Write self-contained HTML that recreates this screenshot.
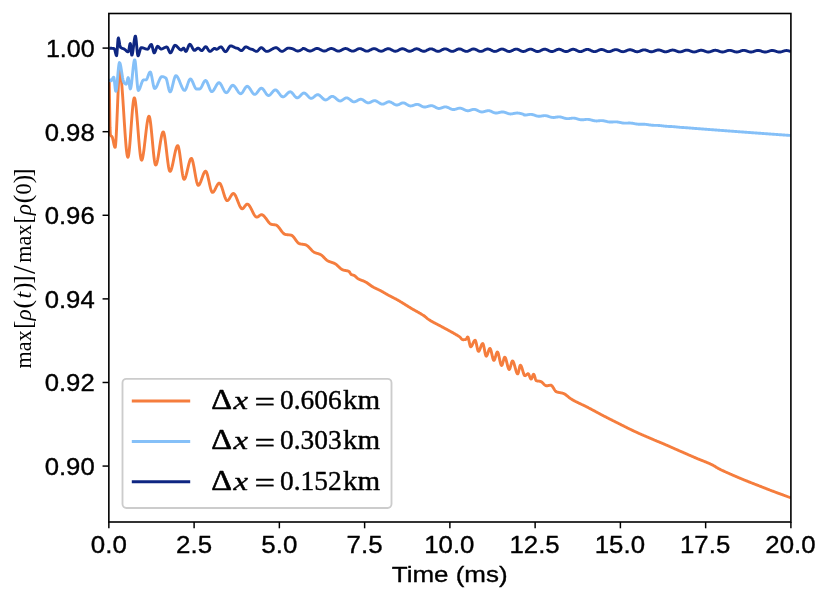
<!DOCTYPE html>
<html><head><meta charset="utf-8"><title>chart</title>
<style>
html,body{margin:0;padding:0;background:#fff;overflow:hidden;}
body{width:830px;height:601px;overflow:hidden;position:relative;font-family:"Liberation Sans",sans-serif;}
</style></head><body>
<svg width="830" height="601" viewBox="0 0 830 601" style="position:absolute;left:0;top:0;display:block;will-change:transform">
<defs><clipPath id="ax"><rect x="108.85" y="13.5" width="682.05" height="508.5"/></clipPath></defs>
<g clip-path="url(#ax)" fill="none" stroke-linejoin="round" stroke-linecap="butt">
<path d="M109.30,82.00 L109.65,106.94 L110.00,127.16 L110.35,134.64 L110.70,135.37 L111.05,135.81 L111.40,136.10 L111.75,136.39 L112.10,136.83 L112.45,137.61 L112.80,138.86 L113.15,140.42 L113.50,142.13 L113.85,143.84 L114.20,145.38 L114.55,146.58 L114.90,147.28 L115.25,147.16 L115.60,144.88 L115.95,140.50 L116.30,134.45 L116.65,127.12 L117.00,118.92 L117.35,110.25 L117.70,101.53 L118.05,93.16 L118.40,85.53 L118.75,79.07 L119.10,74.18 L119.45,71.26 L119.80,70.64 L120.15,71.35 L120.50,72.91 L120.85,75.23 L121.20,78.23 L121.55,81.83 L121.90,85.96 L122.25,90.52 L122.60,95.43 L122.95,100.63 L123.30,106.02 L123.65,111.52 L124.00,117.07 L124.35,122.56 L124.70,127.93 L125.05,133.09 L125.40,137.96 L125.75,142.46 L126.10,146.51 L126.45,150.03 L126.80,152.94 L127.15,155.16 L127.50,156.60 L127.85,157.19 L128.20,156.82 L128.55,155.49 L128.90,153.31 L129.25,150.40 L129.60,146.87 L129.95,142.85 L130.30,138.44 L130.65,133.76 L131.00,128.94 L131.35,124.08 L131.70,119.31 L132.05,114.73 L132.40,110.48 L132.75,106.65 L133.10,103.37 L133.45,100.76 L133.80,98.93 L134.15,98.00 L134.50,98.04 L134.85,98.91 L135.20,100.51 L135.55,102.75 L135.90,105.57 L136.25,108.86 L136.60,112.56 L136.95,116.57 L137.30,120.82 L137.65,125.22 L138.00,129.69 L138.35,134.15 L138.70,138.52 L139.05,142.71 L139.40,146.64 L139.75,150.22 L140.10,153.39 L140.45,156.05 L140.80,158.12 L141.15,159.52 L141.50,160.17 L141.85,160.05 L142.20,159.38 L142.55,158.21 L142.90,156.60 L143.25,154.61 L143.60,152.30 L143.95,149.71 L144.30,146.90 L144.65,143.94 L145.00,140.87 L145.35,137.75 L145.70,134.65 L146.05,131.60 L146.40,128.68 L146.75,125.93 L147.10,123.41 L147.45,121.18 L147.80,119.30 L148.15,117.81 L148.50,116.78 L148.85,116.25 L149.20,116.33 L149.55,117.13 L149.90,118.61 L150.25,120.67 L150.60,123.23 L150.95,126.22 L151.30,129.53 L151.65,133.10 L152.00,136.83 L152.35,140.65 L152.70,144.47 L153.05,148.20 L153.40,151.77 L153.75,155.08 L154.10,158.07 L154.45,160.63 L154.80,162.69 L155.15,164.17 L155.50,164.97 L155.85,165.06 L156.20,164.68 L156.55,163.92 L156.90,162.82 L157.25,161.43 L157.60,159.79 L157.95,157.93 L158.30,155.90 L158.65,153.73 L159.00,151.47 L159.35,149.16 L159.70,146.84 L160.05,144.55 L160.40,142.33 L160.75,140.21 L161.10,138.25 L161.45,136.48 L161.80,134.94 L162.15,133.67 L162.50,132.71 L162.85,132.11 L163.20,131.90 L163.55,132.20 L163.90,133.07 L164.25,134.43 L164.60,136.23 L164.95,138.40 L165.30,140.87 L165.65,143.59 L166.00,146.48 L166.35,149.48 L166.70,152.52 L167.05,155.55 L167.40,158.49 L167.75,161.29 L168.10,163.87 L168.45,166.18 L168.80,168.14 L169.15,169.70 L169.50,170.79 L169.85,171.34 L170.20,171.35 L170.55,171.02 L170.90,170.42 L171.25,169.58 L171.60,168.52 L171.95,167.27 L172.30,165.87 L172.65,164.34 L173.00,162.70 L173.35,161.00 L173.70,159.25 L174.05,157.50 L174.40,155.75 L174.75,154.06 L175.10,152.44 L175.45,150.92 L175.80,149.54 L176.15,148.32 L176.50,147.28 L176.85,146.47 L177.20,145.91 L177.55,145.63 L177.90,145.70 L178.25,146.30 L178.60,147.41 L178.95,148.95 L179.30,150.87 L179.65,153.08 L180.00,155.53 L180.35,158.15 L180.70,160.87 L181.05,163.63 L181.40,166.37 L181.75,169.01 L182.10,171.48 L182.45,173.74 L182.80,175.69 L183.15,177.29 L183.50,178.47 L183.85,179.15 L184.20,179.29 L184.55,179.07 L184.90,178.58 L185.25,177.87 L185.60,176.96 L185.95,175.87 L186.30,174.64 L186.65,173.29 L187.00,171.86 L187.35,170.37 L187.70,168.85 L188.05,167.33 L188.40,165.84 L188.75,164.41 L189.10,163.06 L189.45,161.83 L189.80,160.74 L190.15,159.83 L190.50,159.12 L190.85,158.63 L191.20,158.41 L191.55,158.50 L191.90,158.96 L192.25,159.75 L192.60,160.84 L192.95,162.18 L193.30,163.73 L193.65,165.46 L194.00,167.32 L194.35,169.27 L194.70,171.27 L195.05,173.29 L195.40,175.27 L195.75,177.19 L196.10,179.00 L196.45,180.66 L196.80,182.12 L197.15,183.36 L197.50,184.33 L197.85,184.98 L198.20,185.28 L198.55,185.25 L198.90,185.03 L199.25,184.65 L199.60,184.12 L199.95,183.46 L200.30,182.70 L200.65,181.86 L201.00,180.94 L201.35,179.97 L201.70,178.97 L202.05,177.96 L202.40,176.95 L202.75,175.97 L203.10,175.03 L203.45,174.15 L203.80,173.35 L204.15,172.65 L204.50,172.06 L204.85,171.62 L205.20,171.32 L205.55,171.20 L205.90,171.32 L206.25,171.73 L206.60,172.41 L206.95,173.32 L207.30,174.43 L207.65,175.70 L208.00,177.11 L208.35,178.62 L208.70,180.19 L209.05,181.80 L209.40,183.41 L209.75,184.98 L210.10,186.49 L210.45,187.90 L210.80,189.17 L211.15,190.28 L211.50,191.19 L211.85,191.87 L212.20,192.28 L212.55,192.40 L212.90,192.31 L213.25,192.09 L213.60,191.75 L213.95,191.31 L214.30,190.79 L214.65,190.20 L215.00,189.55 L215.35,188.87 L215.70,188.16 L216.05,187.44 L216.40,186.73 L216.75,186.04 L217.10,185.39 L217.45,184.79 L217.80,184.26 L218.15,183.81 L218.50,183.46 L218.85,183.22 L219.20,183.11 L219.55,183.15 L219.90,183.39 L220.25,183.80 L220.60,184.37 L220.95,185.07 L221.30,185.90 L221.65,186.82 L222.00,187.84 L222.35,188.91 L222.70,190.03 L223.05,191.19 L223.40,192.35 L223.75,193.50 L224.10,194.63 L224.45,195.71 L224.80,196.74 L225.15,197.68 L225.50,198.52 L225.85,199.24 L226.20,199.83 L226.55,200.26 L226.90,200.53 L227.25,200.60 L227.60,200.52 L227.95,200.31 L228.30,200.01 L228.65,199.62 L229.00,199.15 L229.35,198.63 L229.70,198.07 L230.05,197.48 L230.40,196.88 L230.75,196.28 L231.10,195.71 L231.45,195.17 L231.80,194.67 L232.15,194.25 L232.50,193.91 L232.85,193.66 L233.20,193.52 L233.55,193.51 L233.90,193.64 L234.25,193.90 L234.60,194.28 L234.95,194.76 L235.30,195.33 L235.65,195.99 L236.00,196.72 L236.35,197.51 L236.70,198.34 L237.05,199.21 L237.40,200.11 L237.75,201.02 L238.10,201.93 L238.45,202.83 L238.80,203.71 L239.15,204.56 L239.50,205.36 L239.85,206.11 L240.20,206.79 L240.55,207.39 L240.90,207.90 L241.25,208.30 L241.60,208.60 L241.95,208.76 L242.30,208.79 L242.65,208.70 L243.00,208.49 L243.35,208.19 L243.70,207.82 L244.05,207.39 L244.40,206.93 L244.75,206.45 L245.10,205.97 L245.45,205.51 L245.80,205.08 L246.15,204.71 L246.50,204.41 L246.85,204.20 L247.20,204.11 L247.55,204.13 L247.90,204.25 L248.25,204.46 L248.60,204.76 L248.95,205.14 L249.30,205.59 L249.65,206.09 L250.00,206.65 L250.35,207.26 L250.70,207.90 L251.05,208.58 L251.40,209.27 L251.75,209.99 L252.10,210.70 L252.45,211.42 L252.80,212.13 L253.15,212.82 L253.50,213.48 L253.85,214.12 L254.20,214.71 L254.55,215.26 L254.90,215.75 L255.25,216.17 L255.60,216.53 L255.95,216.81 L256.30,217.00 L256.65,217.09 L257.00,217.09 L257.35,217.01 L257.70,216.87 L258.05,216.68 L258.40,216.45 L258.75,216.20 L259.10,215.94 L259.45,215.67 L259.80,215.41 L260.15,215.18 L260.50,214.98 L260.85,214.83 L261.20,214.73 L261.55,214.70 L261.90,214.74 L262.25,214.84 L262.60,215.00 L262.95,215.21 L263.30,215.47 L263.65,215.77 L264.00,216.11 L264.35,216.49 L264.70,216.89 L265.05,217.32 L265.40,217.77 L265.75,218.24 L266.10,218.72 L266.45,219.20 L266.80,219.69 L267.15,220.18 L267.50,220.67 L267.85,221.14 L268.20,221.60 L268.55,222.04 L268.90,222.46 L269.25,222.85 L269.60,223.21 L269.95,223.53 L270.30,223.81 L270.65,224.04 L271.00,224.23 L271.35,224.36 L271.70,224.44 L272.05,224.51 L272.40,224.56 L272.75,224.60 L273.10,224.64 L273.45,224.68 L273.80,224.71 L274.15,224.75 L274.50,224.79 L274.85,224.83 L275.20,224.88 L275.55,224.95 L275.90,225.02 L276.25,225.15 L276.60,225.33 L276.95,225.56 L277.30,225.83 L277.65,226.15 L278.00,226.50 L278.35,226.89 L278.70,227.30 L279.05,227.74 L279.40,228.20 L279.75,228.67 L280.10,229.15 L280.45,229.63 L280.80,230.12 L281.15,230.60 L281.50,231.07 L281.85,231.53 L282.20,231.97 L282.55,232.40 L282.90,232.79 L283.25,233.15 L283.60,233.48 L283.95,233.77 L284.30,234.01 L284.65,234.21 L285.00,234.35 L285.35,234.43 L285.70,234.50 L286.05,234.56 L286.40,234.61 L286.75,234.66 L287.10,234.69 L287.45,234.73 L287.80,234.76 L288.15,234.79 L288.50,234.82 L288.85,234.86 L289.20,234.89 L289.55,234.93 L289.90,234.97 L290.25,235.02 L290.60,235.08 L290.95,235.15 L291.30,235.23 L291.65,235.36 L292.00,235.55 L292.35,235.80 L292.70,236.09 L293.05,236.44 L293.40,236.82 L293.75,237.23 L294.10,237.67 L294.45,238.13 L294.80,238.61 L295.15,239.09 L295.50,239.58 L295.85,240.07 L296.20,240.56 L296.55,241.03 L296.90,241.48 L297.25,241.91 L297.60,242.30 L297.95,242.67 L298.30,242.99 L298.65,243.26 L299.00,243.49 L299.35,243.65 L299.70,243.76 L300.05,243.85 L300.40,243.93 L300.75,244.00 L301.10,244.06 L301.45,244.12 L301.80,244.17 L302.15,244.21 L302.50,244.26 L302.85,244.30 L303.20,244.35 L303.55,244.40 L303.90,244.45 L304.25,244.51 L304.60,244.58 L304.95,244.66 L305.30,244.74 L305.65,244.85 L306.00,244.98 L306.35,245.16 L306.70,245.36 L307.05,245.60 L307.40,245.86 L307.75,246.15 L308.10,246.46 L308.45,246.78 L308.80,247.13 L309.15,247.48 L309.50,247.84 L309.85,248.22 L310.20,248.59 L310.55,248.97 L310.90,249.34 L311.25,249.71 L311.60,250.08 L311.95,250.43 L312.30,250.77 L312.65,251.09 L313.00,251.39 L313.35,251.67 L313.70,251.93 L314.05,252.15 L314.40,252.35 L314.75,252.52 L315.10,252.67 L315.45,252.81 L315.80,252.94 L316.15,253.05 L316.50,253.16 L316.85,253.27 L317.20,253.37 L317.55,253.47 L317.90,253.58 L318.25,253.68 L318.60,253.79 L318.95,253.91 L319.30,254.03 L319.65,254.16 L320.00,254.31 L320.35,254.48 L320.70,254.66 L321.05,254.88 L321.40,255.12 L321.75,255.39 L322.10,255.68 L322.45,255.99 L322.80,256.32 L323.15,256.66 L323.50,257.01 L323.85,257.36 L324.20,257.72 L324.55,258.08 L324.90,258.44 L325.25,258.79 L325.60,259.12 L325.95,259.45 L326.30,259.76 L326.65,260.06 L327.00,260.33 L327.35,260.57 L327.70,260.79 L328.05,260.98 L328.40,261.15 L328.75,261.31 L329.10,261.45 L329.45,261.59 L329.80,261.72 L330.15,261.84 L330.50,261.96 L330.85,262.07 L331.20,262.18 L331.55,262.29 L331.90,262.40 L332.25,262.52 L332.60,262.64 L332.95,262.76 L333.30,262.89 L333.65,263.02 L334.00,263.17 L334.35,263.33 L334.70,263.50 L335.05,263.69 L335.40,263.91 L335.75,264.15 L336.10,264.41 L336.45,264.69 L336.80,264.99 L337.15,265.30 L337.50,265.61 L337.85,265.94 L338.20,266.27 L338.55,266.60 L338.90,266.94 L339.25,267.27 L339.60,267.59 L339.95,267.91 L340.30,268.22 L340.65,268.51 L341.00,268.79 L341.35,269.05 L341.70,269.28 L342.05,269.50 L342.40,269.68 L342.75,269.84 L343.10,269.97 L343.45,270.08 L343.80,270.18 L344.15,270.26 L344.50,270.33 L344.85,270.40 L345.20,270.46 L345.55,270.52 L345.90,270.58 L346.25,270.64 L346.60,270.70 L346.95,270.77 L347.30,270.85 L347.65,270.94 L348.00,271.05 L348.35,271.17 L348.70,271.31 L349.05,271.49 L349.40,271.86 L349.75,272.37 L350.10,272.95 L350.45,273.53 L350.80,274.03 L351.15,274.37 L351.50,274.56 L351.85,274.71 L352.20,274.83 L352.55,274.94 L352.90,275.04 L353.25,275.14 L353.60,275.25 L353.95,275.38 L354.30,275.55 L354.65,275.77 L355.00,276.04 L355.35,276.34 L355.70,276.67 L356.05,277.01 L356.40,277.35 L356.75,277.69 L357.10,278.00 L357.45,278.29 L357.80,278.54 L358.15,278.75 L358.50,278.94 L358.85,279.12 L359.20,279.30 L359.55,279.46 L359.90,279.61 L360.25,279.76 L360.60,279.91 L360.95,280.05 L361.30,280.18 L361.65,280.31 L362.00,280.45 L362.35,280.58 L362.70,280.71 L363.05,280.85 L363.40,280.98 L363.75,281.13 L364.10,281.28 L364.45,281.43 L364.80,281.60 L365.15,281.77 L365.50,281.95 L365.85,282.15 L366.20,282.35 L366.55,282.57 L366.90,282.79 L367.25,283.02 L367.60,283.26 L367.95,283.51 L368.30,283.75 L368.65,284.00 L369.00,284.26 L369.35,284.51 L369.70,284.76 L370.05,285.02 L370.40,285.27 L370.75,285.52 L371.10,285.76 L371.45,286.00 L371.80,286.23 L372.15,286.45 L372.50,286.67 L372.85,286.87 L373.20,287.07 L373.55,287.26 L373.90,287.44 L374.25,287.63 L374.60,287.80 L374.95,287.98 L375.30,288.15 L375.65,288.31 L376.00,288.48 L376.35,288.64 L376.70,288.81 L377.05,288.97 L377.40,289.13 L377.75,289.30 L378.10,289.46 L378.45,289.63 L378.80,289.79 L379.15,289.96 L379.50,290.14 L379.85,290.31 L380.20,290.49 L380.55,290.68 L380.90,290.87 L381.25,291.06 L381.60,291.26 L381.95,291.45 L382.30,291.65 L382.65,291.85 L383.00,292.06 L383.35,292.26 L383.70,292.47 L384.05,292.67 L384.40,292.88 L384.75,293.09 L385.10,293.30 L385.45,293.50 L385.80,293.71 L386.15,293.91 L386.50,294.11 L386.85,294.31 L387.20,294.51 L387.55,294.71 L387.90,294.90 L388.25,295.09 L388.60,295.28 L388.95,295.46 L389.30,295.65 L389.65,295.83 L390.00,296.01 L390.35,296.19 L390.70,296.37 L391.05,296.55 L391.40,296.73 L391.75,296.91 L392.10,297.08 L392.45,297.26 L392.80,297.44 L393.15,297.62 L393.50,297.80 L393.85,297.97 L394.20,298.15 L394.55,298.34 L394.90,298.52 L395.25,298.70 L395.60,298.89 L395.95,299.08 L396.30,299.27 L396.65,299.46 L397.00,299.66 L397.35,299.85 L397.70,300.05 L398.05,300.25 L398.40,300.45 L398.75,300.66 L399.10,300.86 L399.45,301.07 L399.80,301.28 L400.15,301.49 L400.50,301.70 L400.85,301.91 L401.20,302.12 L401.55,302.33 L401.90,302.55 L402.25,302.76 L402.60,302.98 L402.95,303.20 L403.30,303.41 L403.65,303.63 L404.00,303.85 L404.35,304.07 L404.70,304.29 L405.05,304.50 L405.40,304.72 L405.75,304.94 L406.10,305.16 L406.45,305.38 L406.80,305.60 L407.15,305.82 L407.50,306.04 L407.85,306.26 L408.20,306.48 L408.55,306.69 L408.90,306.91 L409.25,307.13 L409.60,307.34 L409.95,307.56 L410.30,307.77 L410.65,307.99 L411.00,308.20 L411.35,308.41 L411.70,308.62 L412.05,308.83 L412.40,309.03 L412.75,309.23 L413.10,309.43 L413.45,309.63 L413.80,309.83 L414.15,310.02 L414.50,310.22 L414.85,310.41 L415.20,310.61 L415.55,310.80 L415.90,310.99 L416.25,311.19 L416.60,311.38 L416.95,311.57 L417.30,311.77 L417.65,311.96 L418.00,312.16 L418.35,312.35 L418.70,312.55 L419.05,312.75 L419.40,312.95 L419.75,313.16 L420.10,313.36 L420.45,313.57 L420.80,313.78 L421.15,313.99 L421.50,314.21 L421.85,314.42 L422.20,314.65 L422.55,314.87 L422.90,315.10 L423.25,315.33 L423.60,315.57 L423.95,315.81 L424.30,316.05 L424.65,316.30 L425.00,316.55 L425.35,316.81 L425.70,317.08 L426.05,317.38 L426.40,317.71 L426.75,318.04 L427.10,318.36 L427.45,318.64 L427.80,318.89 L428.15,319.14 L428.50,319.38 L428.85,319.62 L429.20,319.85 L429.55,320.07 L429.90,320.30 L430.25,320.52 L430.60,320.73 L430.95,320.94 L431.30,321.15 L431.65,321.35 L432.00,321.55 L432.35,321.75 L432.70,321.94 L433.05,322.13 L433.40,322.32 L433.75,322.51 L434.10,322.70 L434.45,322.88 L434.80,323.06 L435.15,323.24 L435.50,323.42 L435.85,323.60 L436.20,323.78 L436.55,323.96 L436.90,324.14 L437.25,324.32 L437.60,324.50 L437.95,324.68 L438.30,324.86 L438.65,325.04 L439.00,325.22 L439.35,325.41 L439.70,325.59 L440.05,325.78 L440.40,325.97 L440.75,326.16 L441.10,326.36 L441.45,326.55 L441.80,326.74 L442.15,326.94 L442.50,327.13 L442.85,327.32 L443.20,327.51 L443.55,327.70 L443.90,327.89 L444.25,328.08 L444.60,328.27 L444.95,328.46 L445.30,328.64 L445.65,328.83 L446.00,329.02 L446.35,329.21 L446.70,329.39 L447.05,329.58 L447.40,329.77 L447.75,329.96 L448.10,330.15 L448.45,330.33 L448.80,330.52 L449.15,330.71 L449.50,330.90 L449.85,331.09 L450.20,331.28 L450.55,331.47 L450.90,331.67 L451.25,331.86 L451.60,332.05 L451.95,332.25 L452.30,332.45 L452.65,332.64 L453.00,332.84 L453.35,333.04 L453.70,333.24 L454.05,333.44 L454.40,333.65 L454.75,333.85 L455.10,334.06 L455.45,334.26 L455.80,334.47 L456.15,334.67 L456.50,334.87 L456.85,335.08 L457.20,335.29 L457.55,335.50 L457.90,335.71 L458.25,335.93 L458.60,336.16 L458.95,336.39 L459.30,336.64 L459.65,336.89 L460.00,337.16 L460.35,337.51 L460.70,337.91 L461.05,338.33 L461.40,338.75 L461.75,339.12 L462.10,339.42 L462.45,339.63 L462.80,339.70 L463.15,339.70 L463.50,339.69 L463.85,339.68 L464.20,339.66 L464.55,339.63 L464.90,339.60 L465.25,339.57 L465.60,339.53 L465.95,339.44 L466.30,339.02 L466.65,338.37 L467.00,337.68 L467.35,337.13 L467.70,336.90 L468.05,337.27 L468.40,338.27 L468.75,339.69 L469.10,341.36 L469.45,343.08 L469.80,344.66 L470.15,345.92 L470.50,346.67 L470.85,346.78 L471.20,346.57 L471.55,346.17 L471.90,345.61 L472.25,344.95 L472.60,344.21 L472.95,343.44 L473.30,342.67 L473.65,341.95 L474.00,341.32 L474.35,340.80 L474.70,340.45 L475.05,340.30 L475.40,340.54 L475.75,341.36 L476.10,342.62 L476.45,344.16 L476.80,345.85 L477.15,347.54 L477.50,349.08 L477.85,350.34 L478.20,351.16 L478.55,351.40 L478.90,351.20 L479.25,350.73 L479.60,350.06 L479.95,349.23 L480.30,348.29 L480.65,347.31 L481.00,346.34 L481.35,345.42 L481.70,344.63 L482.05,344.01 L482.40,343.62 L482.75,343.51 L483.10,343.94 L483.45,344.92 L483.80,346.33 L484.15,348.02 L484.50,349.85 L484.85,351.68 L485.20,353.37 L485.55,354.78 L485.90,355.76 L486.25,356.19 L486.60,356.05 L486.95,355.53 L487.30,354.73 L487.65,353.73 L488.00,352.62 L488.35,351.49 L488.70,350.42 L489.05,349.50 L489.40,348.81 L489.75,348.44 L490.10,348.49 L490.45,349.02 L490.80,349.95 L491.15,351.18 L491.50,352.62 L491.85,354.18 L492.20,355.74 L492.55,357.22 L492.90,358.52 L493.25,359.55 L493.60,360.21 L493.95,360.39 L494.30,360.10 L494.65,359.41 L495.00,358.43 L495.35,357.27 L495.70,356.02 L496.05,354.79 L496.40,353.67 L496.75,352.76 L497.10,352.17 L497.45,352.01 L497.80,352.34 L498.15,353.14 L498.50,354.29 L498.85,355.72 L499.20,357.31 L499.55,358.99 L499.90,360.66 L500.25,362.21 L500.60,363.57 L500.95,364.63 L501.30,365.30 L501.65,365.49 L502.00,365.14 L502.35,364.35 L502.70,363.23 L503.05,361.93 L503.40,360.58 L503.75,359.29 L504.10,358.22 L504.45,357.48 L504.80,357.20 L505.15,357.42 L505.50,358.03 L505.85,358.97 L506.20,360.14 L506.55,361.49 L506.90,362.93 L507.25,364.39 L507.60,365.80 L507.95,367.09 L508.30,368.17 L508.65,368.97 L509.00,369.43 L509.35,369.45 L509.70,368.97 L510.05,368.10 L510.40,366.95 L510.75,365.64 L511.10,364.29 L511.45,363.03 L511.80,361.99 L512.15,361.27 L512.50,361.00 L512.85,361.17 L513.20,361.64 L513.55,362.37 L513.90,363.30 L514.25,364.40 L514.60,365.61 L514.95,366.89 L515.30,368.19 L515.65,369.47 L516.00,370.67 L516.35,371.74 L516.70,372.65 L517.05,373.35 L517.40,373.78 L517.75,373.89 L518.10,373.38 L518.45,372.26 L518.80,370.74 L519.15,369.07 L519.50,367.46 L519.85,366.14 L520.20,365.34 L520.55,365.23 L520.90,365.56 L521.25,366.18 L521.60,367.04 L521.95,368.08 L522.30,369.23 L522.65,370.45 L523.00,371.67 L523.35,372.82 L523.70,373.86 L524.05,374.72 L524.40,375.34 L524.75,375.67 L525.10,375.68 L525.45,375.54 L525.80,375.31 L526.15,375.02 L526.50,374.70 L526.85,374.38 L527.20,374.09 L527.55,373.86 L527.90,373.72 L528.25,373.74 L528.60,374.10 L528.95,374.75 L529.30,375.60 L529.65,376.53 L530.00,377.45 L530.35,378.26 L530.70,378.84 L531.05,379.10 L531.40,378.91 L531.75,378.30 L532.10,377.41 L532.45,376.41 L532.80,375.46 L533.15,374.71 L533.50,374.32 L533.85,374.45 L534.20,375.07 L534.55,376.05 L534.90,377.21 L535.25,378.42 L535.60,379.50 L535.95,380.32 L536.30,380.70 L536.65,380.80 L537.00,380.89 L537.35,380.95 L537.70,381.01 L538.05,381.05 L538.40,381.09 L538.75,381.12 L539.10,381.16 L539.45,381.20 L539.80,381.25 L540.15,381.32 L540.50,381.40 L540.85,381.52 L541.20,381.70 L541.55,381.93 L541.90,382.21 L542.25,382.51 L542.60,382.84 L542.95,383.19 L543.30,383.54 L543.65,383.90 L544.00,384.25 L544.35,384.58 L544.70,384.89 L545.05,385.17 L545.40,385.41 L545.75,385.59 L546.10,385.73 L546.45,385.79 L546.80,385.80 L547.15,385.77 L547.50,385.73 L547.85,385.67 L548.20,385.61 L548.55,385.53 L548.90,385.46 L549.25,385.38 L549.60,385.32 L549.95,385.26 L550.30,385.22 L550.65,385.20 L551.00,385.22 L551.35,385.36 L551.70,385.61 L552.05,385.96 L552.40,386.39 L552.75,386.88 L553.10,387.42 L553.45,387.99 L553.80,388.58 L554.15,389.16 L554.50,389.72 L554.85,390.25 L555.20,390.72 L555.55,391.13 L555.90,391.46 L556.25,391.68 L556.60,391.82 L556.95,391.95 L557.30,392.07 L557.65,392.17 L558.00,392.26 L558.35,392.35 L558.70,392.42 L559.05,392.49 L559.40,392.56 L559.75,392.62 L560.10,392.69 L560.45,392.75 L560.80,392.81 L561.15,392.88 L561.50,392.95 L561.85,393.02 L562.20,393.11 L562.55,393.20 L562.90,393.30 L563.25,393.41 L563.60,393.54 L563.95,393.69 L564.30,393.86 L564.65,394.05 L565.00,394.26 L565.35,394.49 L565.70,394.73 L566.05,394.99 L566.40,395.26 L566.75,395.54 L567.10,395.82 L567.45,396.11 L567.80,396.41 L568.15,396.70 L568.50,397.00 L568.85,397.29 L569.20,397.58 L569.55,397.86 L569.90,398.13 L570.25,398.39 L570.60,398.64 L570.95,398.88 L571.30,399.10 L571.65,399.31 L572.00,399.52 L572.35,399.72 L572.70,399.92 L573.05,400.12 L573.40,400.31 L573.75,400.50 L574.10,400.69 L574.45,400.88 L574.80,401.06 L575.15,401.25 L575.50,401.43 L575.85,401.61 L576.20,401.78 L576.55,401.96 L576.90,402.13 L577.25,402.30 L577.60,402.47 L577.95,402.64 L578.30,402.81 L578.65,402.98 L579.00,403.15 L579.35,403.31 L579.70,403.48 L580.05,403.64 L580.40,403.81 L580.75,403.97 L581.10,404.13 L581.45,404.30 L581.80,404.46 L582.15,404.63 L582.50,404.79 L582.85,404.96 L583.20,405.12 L583.55,405.29 L583.90,405.46 L584.25,405.63 L584.60,405.80 L584.95,405.97 L585.30,406.14 L585.65,406.31 L586.00,406.49 L586.35,406.67 L586.70,406.85 L587.05,407.03 L587.40,407.21 L587.75,407.39 L588.10,407.57 L588.45,407.76 L588.80,407.94 L589.15,408.13 L589.50,408.31 L589.85,408.50 L590.20,408.69 L590.55,408.87 L590.90,409.06 L591.25,409.25 L591.60,409.44 L591.95,409.63 L592.30,409.81 L592.65,410.00 L593.00,410.19 L593.35,410.38 L593.70,410.57 L594.05,410.76 L594.40,410.95 L594.75,411.14 L595.10,411.33 L595.45,411.52 L595.80,411.71 L596.15,411.90 L596.50,412.09 L596.85,412.28 L597.20,412.47 L597.55,412.66 L597.90,412.85 L598.25,413.04 L598.60,413.23 L598.95,413.41 L599.30,413.60 L599.65,413.79 L600.00,413.98 L600.35,414.16 L600.70,414.35 L601.05,414.53 L601.40,414.72 L601.75,414.90 L602.10,415.09 L602.45,415.27 L602.80,415.45 L603.15,415.63 L603.50,415.82 L603.85,416.00 L604.20,416.18 L604.55,416.36 L604.90,416.54 L605.25,416.72 L605.60,416.90 L605.95,417.08 L606.30,417.26 L606.65,417.43 L607.00,417.61 L607.35,417.79 L607.70,417.97 L608.05,418.15 L608.40,418.32 L608.75,418.50 L609.10,418.68 L609.45,418.86 L609.80,419.03 L610.15,419.21 L610.50,419.39 L610.85,419.56 L611.20,419.74 L611.55,419.92 L611.90,420.09 L612.25,420.27 L612.60,420.44 L612.95,420.62 L613.30,420.79 L613.65,420.97 L614.00,421.15 L614.35,421.32 L614.70,421.50 L615.05,421.67 L615.40,421.85 L615.75,422.02 L616.10,422.20 L616.45,422.37 L616.80,422.55 L617.15,422.72 L617.50,422.90 L617.85,423.07 L618.20,423.25 L618.55,423.43 L618.90,423.60 L619.25,423.78 L619.60,423.95 L619.95,424.13 L620.30,424.31 L620.65,424.48 L621.00,424.66 L621.35,424.84 L621.70,425.02 L622.05,425.19 L622.40,425.37 L622.75,425.55 L623.10,425.73 L623.45,425.90 L623.80,426.08 L624.15,426.26 L624.50,426.43 L624.85,426.61 L625.20,426.79 L625.55,426.96 L625.90,427.14 L626.25,427.32 L626.60,427.49 L626.95,427.67 L627.30,427.84 L627.65,428.02 L628.00,428.19 L628.35,428.37 L628.70,428.54 L629.05,428.71 L629.40,428.89 L629.75,429.06 L630.10,429.23 L630.45,429.40 L630.80,429.57 L631.15,429.74 L631.50,429.91 L631.85,430.08 L632.20,430.25 L632.55,430.41 L632.90,430.58 L633.25,430.75 L633.60,430.91 L633.95,431.08 L634.30,431.24 L634.65,431.40 L635.00,431.57 L635.35,431.73 L635.70,431.89 L636.05,432.05 L636.40,432.21 L636.75,432.37 L637.10,432.53 L637.45,432.69 L637.80,432.84 L638.15,433.00 L638.50,433.16 L638.85,433.32 L639.20,433.47 L639.55,433.63 L639.90,433.78 L640.25,433.94 L640.60,434.09 L640.95,434.25 L641.30,434.40 L641.65,434.56 L642.00,434.71 L642.35,434.86 L642.70,435.02 L643.05,435.17 L643.40,435.32 L643.75,435.47 L644.10,435.63 L644.45,435.78 L644.80,435.93 L645.15,436.08 L645.50,436.23 L645.85,436.38 L646.20,436.53 L646.55,436.69 L646.90,436.84 L647.25,436.99 L647.60,437.14 L647.95,437.29 L648.30,437.44 L648.65,437.59 L649.00,437.74 L649.35,437.89 L649.70,438.04 L650.05,438.19 L650.40,438.34 L650.75,438.49 L651.10,438.64 L651.45,438.79 L651.80,438.94 L652.15,439.09 L652.50,439.24 L652.85,439.38 L653.20,439.53 L653.55,439.68 L653.90,439.82 L654.25,439.97 L654.60,440.12 L654.95,440.26 L655.30,440.41 L655.65,440.55 L656.00,440.70 L656.35,440.85 L656.70,440.99 L657.05,441.14 L657.40,441.28 L657.75,441.43 L658.10,441.57 L658.45,441.72 L658.80,441.86 L659.15,442.01 L659.50,442.15 L659.85,442.30 L660.20,442.45 L660.55,442.59 L660.90,442.74 L661.25,442.88 L661.60,443.03 L661.95,443.18 L662.30,443.33 L662.65,443.47 L663.00,443.62 L663.35,443.77 L663.70,443.92 L664.05,444.07 L664.40,444.21 L664.75,444.36 L665.10,444.51 L665.45,444.66 L665.80,444.82 L666.15,444.97 L666.50,445.12 L666.85,445.27 L667.20,445.42 L667.55,445.57 L667.90,445.73 L668.25,445.88 L668.60,446.03 L668.95,446.18 L669.30,446.34 L669.65,446.49 L670.00,446.64 L670.35,446.80 L670.70,446.95 L671.05,447.11 L671.40,447.26 L671.75,447.42 L672.10,447.57 L672.45,447.72 L672.80,447.88 L673.15,448.03 L673.50,448.19 L673.85,448.34 L674.20,448.50 L674.55,448.65 L674.90,448.81 L675.25,448.96 L675.60,449.12 L675.95,449.27 L676.30,449.43 L676.65,449.58 L677.00,449.74 L677.35,449.89 L677.70,450.05 L678.05,450.20 L678.40,450.36 L678.75,450.51 L679.10,450.67 L679.45,450.82 L679.80,450.97 L680.15,451.13 L680.50,451.28 L680.85,451.43 L681.20,451.59 L681.55,451.74 L681.90,451.89 L682.25,452.05 L682.60,452.20 L682.95,452.35 L683.30,452.51 L683.65,452.66 L684.00,452.81 L684.35,452.97 L684.70,453.12 L685.05,453.28 L685.40,453.43 L685.75,453.58 L686.10,453.74 L686.45,453.89 L686.80,454.04 L687.15,454.20 L687.50,454.35 L687.85,454.50 L688.20,454.66 L688.55,454.81 L688.90,454.96 L689.25,455.12 L689.60,455.27 L689.95,455.42 L690.30,455.57 L690.65,455.73 L691.00,455.88 L691.35,456.03 L691.70,456.18 L692.05,456.34 L692.40,456.49 L692.75,456.64 L693.10,456.79 L693.45,456.94 L693.80,457.10 L694.15,457.25 L694.50,457.40 L694.85,457.55 L695.20,457.70 L695.55,457.85 L695.90,458.00 L696.25,458.15 L696.60,458.30 L696.95,458.45 L697.30,458.60 L697.65,458.74 L698.00,458.89 L698.35,459.03 L698.70,459.17 L699.05,459.32 L699.40,459.46 L699.75,459.60 L700.10,459.74 L700.45,459.88 L700.80,460.02 L701.15,460.15 L701.50,460.29 L701.85,460.43 L702.20,460.57 L702.55,460.70 L702.90,460.84 L703.25,460.98 L703.60,461.12 L703.95,461.26 L704.30,461.40 L704.65,461.53 L705.00,461.67 L705.35,461.82 L705.70,461.96 L706.05,462.10 L706.40,462.24 L706.75,462.39 L707.10,462.53 L707.45,462.68 L707.80,462.83 L708.15,462.98 L708.50,463.13 L708.85,463.28 L709.20,463.44 L709.55,463.59 L709.90,463.75 L710.25,463.91 L710.60,464.08 L710.95,464.24 L711.30,464.41 L711.65,464.58 L712.00,464.75 L712.35,464.93 L712.70,465.11 L713.05,465.30 L713.40,465.49 L713.75,465.69 L714.10,465.90 L714.45,466.11 L714.80,466.33 L715.15,466.54 L715.50,466.76 L715.85,466.98 L716.20,467.20 L716.55,467.42 L716.90,467.63 L717.25,467.84 L717.60,468.05 L717.95,468.25 L718.30,468.44 L718.65,468.63 L719.00,468.81 L719.35,468.99 L719.70,469.17 L720.05,469.34 L720.40,469.51 L720.75,469.69 L721.10,469.86 L721.45,470.02 L721.80,470.19 L722.15,470.36 L722.50,470.52 L722.85,470.68 L723.20,470.84 L723.55,471.00 L723.90,471.16 L724.25,471.32 L724.60,471.48 L724.95,471.64 L725.30,471.79 L725.65,471.95 L726.00,472.11 L726.35,472.26 L726.70,472.42 L727.05,472.57 L727.40,472.73 L727.75,472.89 L728.10,473.04 L728.45,473.20 L728.80,473.36 L729.15,473.52 L729.50,473.67 L729.85,473.83 L730.20,473.98 L730.55,474.14 L730.90,474.29 L731.25,474.45 L731.60,474.60 L731.95,474.75 L732.30,474.91 L732.65,475.06 L733.00,475.21 L733.35,475.37 L733.70,475.52 L734.05,475.67 L734.40,475.82 L734.75,475.97 L735.10,476.12 L735.45,476.27 L735.80,476.42 L736.15,476.57 L736.50,476.72 L736.85,476.87 L737.20,477.02 L737.55,477.17 L737.90,477.32 L738.25,477.47 L738.60,477.62 L738.95,477.76 L739.30,477.91 L739.65,478.06 L740.00,478.21 L740.35,478.35 L740.70,478.50 L741.05,478.64 L741.40,478.79 L741.75,478.94 L742.10,479.08 L742.45,479.23 L742.80,479.37 L743.15,479.51 L743.50,479.66 L743.85,479.80 L744.20,479.95 L744.55,480.09 L744.90,480.23 L745.25,480.37 L745.60,480.52 L745.95,480.66 L746.30,480.80 L746.65,480.94 L747.00,481.08 L747.35,481.22 L747.70,481.36 L748.05,481.50 L748.40,481.64 L748.75,481.78 L749.10,481.91 L749.45,482.05 L749.80,482.19 L750.15,482.33 L750.50,482.47 L750.85,482.60 L751.20,482.74 L751.55,482.88 L751.90,483.01 L752.25,483.15 L752.60,483.29 L752.95,483.42 L753.30,483.56 L753.65,483.70 L754.00,483.83 L754.35,483.97 L754.70,484.11 L755.05,484.24 L755.40,484.38 L755.75,484.52 L756.10,484.65 L756.45,484.79 L756.80,484.92 L757.15,485.06 L757.50,485.20 L757.85,485.33 L758.20,485.47 L758.55,485.61 L758.90,485.74 L759.25,485.88 L759.60,486.02 L759.95,486.15 L760.30,486.29 L760.65,486.43 L761.00,486.57 L761.35,486.70 L761.70,486.84 L762.05,486.98 L762.40,487.12 L762.75,487.25 L763.10,487.39 L763.45,487.53 L763.80,487.67 L764.15,487.80 L764.50,487.94 L764.85,488.08 L765.20,488.22 L765.55,488.35 L765.90,488.49 L766.25,488.63 L766.60,488.77 L766.95,488.90 L767.30,489.04 L767.65,489.18 L768.00,489.31 L768.35,489.45 L768.70,489.58 L769.05,489.72 L769.40,489.86 L769.75,489.99 L770.10,490.13 L770.45,490.26 L770.80,490.40 L771.15,490.53 L771.50,490.67 L771.85,490.80 L772.20,490.94 L772.55,491.07 L772.90,491.20 L773.25,491.34 L773.60,491.47 L773.95,491.60 L774.30,491.74 L774.65,491.87 L775.00,492.00 L775.35,492.13 L775.70,492.26 L776.05,492.39 L776.40,492.53 L776.75,492.66 L777.10,492.79 L777.45,492.92 L777.80,493.05 L778.15,493.18 L778.50,493.31 L778.85,493.44 L779.20,493.57 L779.55,493.70 L779.90,493.83 L780.25,493.96 L780.60,494.09 L780.95,494.21 L781.30,494.34 L781.65,494.47 L782.00,494.60 L782.35,494.73 L782.70,494.86 L783.05,494.98 L783.40,495.11 L783.75,495.24 L784.10,495.37 L784.45,495.49 L784.80,495.62 L785.15,495.75 L785.50,495.87 L785.85,496.00 L786.20,496.12 L786.55,496.25 L786.90,496.38 L787.25,496.50 L787.60,496.63 L787.95,496.75 L788.30,496.88 L788.65,497.00 L789.00,497.13 L789.35,497.25 L789.70,497.38 L790.05,497.50 L790.40,497.62 L790.75,497.75 L790.90,497.80" stroke="#F57D3D" stroke-width="2.9"/>
<path d="M109.30,79.00 L109.65,79.67 L110.00,80.21 L110.35,80.60 L110.70,80.83 L111.05,80.90 L111.40,80.67 L111.75,80.18 L112.10,79.52 L112.45,78.79 L112.80,78.09 L113.15,77.51 L113.50,77.16 L113.85,77.31 L114.20,79.15 L114.55,82.23 L114.90,85.77 L115.25,88.97 L115.60,91.04 L115.95,91.26 L116.30,89.96 L116.65,87.54 L117.00,84.28 L117.35,80.47 L117.70,76.42 L118.05,72.40 L118.40,68.72 L118.75,65.67 L119.10,63.54 L119.45,62.62 L119.80,62.85 L120.15,63.71 L120.50,65.07 L120.85,66.84 L121.20,68.89 L121.55,71.12 L121.90,73.41 L122.25,75.66 L122.60,77.76 L122.95,79.60 L123.30,81.07 L123.65,82.05 L124.00,82.55 L124.35,82.97 L124.70,83.35 L125.05,83.67 L125.40,83.93 L125.75,84.11 L126.10,84.20 L126.45,83.92 L126.80,82.77 L127.15,81.15 L127.50,79.46 L127.85,78.14 L128.20,77.60 L128.55,78.44 L128.90,80.56 L129.25,83.30 L129.60,86.04 L129.95,88.16 L130.30,89.00 L130.65,88.47 L131.00,87.01 L131.35,84.79 L131.70,81.99 L132.05,78.78 L132.40,75.35 L132.75,71.86 L133.10,68.51 L133.45,65.45 L133.80,62.88 L134.15,60.96 L134.50,59.88 L134.85,59.86 L135.20,61.31 L135.55,64.03 L135.90,67.66 L136.25,71.87 L136.60,76.33 L136.95,80.69 L137.30,84.61 L137.65,87.76 L138.00,89.80 L138.35,90.40 L138.70,90.23 L139.05,89.83 L139.40,89.23 L139.75,88.47 L140.10,87.59 L140.45,86.62 L140.80,85.60 L141.15,84.56 L141.50,83.54 L141.85,82.58 L142.20,81.71 L142.55,80.97 L142.90,80.40 L143.25,80.03 L143.60,79.90 L143.95,79.90 L144.30,79.90 L144.65,79.90 L145.00,79.90 L145.35,79.90 L145.70,79.90 L146.05,79.90 L146.40,79.70 L146.75,79.23 L147.10,78.56 L147.45,77.73 L147.80,76.79 L148.15,75.81 L148.50,74.84 L148.85,73.92 L149.20,73.13 L149.55,72.51 L149.90,72.12 L150.25,72.01 L150.60,72.37 L150.95,73.22 L151.30,74.48 L151.65,76.04 L152.00,77.81 L152.35,79.70 L152.70,81.62 L153.05,83.47 L153.40,85.16 L153.75,86.60 L154.10,87.70 L154.45,88.35 L154.80,88.49 L155.15,88.37 L155.50,88.09 L155.85,87.69 L156.20,87.17 L156.55,86.55 L156.90,85.85 L157.25,85.08 L157.60,84.26 L157.95,83.41 L158.30,82.55 L158.65,81.69 L159.00,80.84 L159.35,80.02 L159.70,79.25 L160.05,78.55 L160.40,77.93 L160.75,77.41 L161.10,77.01 L161.45,76.73 L161.80,76.61 L162.15,76.61 L162.50,76.64 L162.85,76.70 L163.20,76.78 L163.55,76.88 L163.90,77.01 L164.25,77.15 L164.60,77.32 L164.95,77.50 L165.30,77.69 L165.65,77.91 L166.00,78.20 L166.35,78.89 L166.70,79.93 L167.05,81.24 L167.40,82.74 L167.75,84.35 L168.10,85.99 L168.45,87.58 L168.80,89.03 L169.15,90.27 L169.50,91.21 L169.85,91.77 L170.20,91.89 L170.55,91.62 L170.90,91.06 L171.25,90.24 L171.60,89.21 L171.95,88.01 L172.30,86.68 L172.65,85.26 L173.00,83.80 L173.35,82.34 L173.70,80.92 L174.05,79.59 L174.40,78.39 L174.75,77.36 L175.10,76.54 L175.45,75.98 L175.80,75.71 L176.15,75.74 L176.50,75.90 L176.85,76.19 L177.20,76.59 L177.55,77.09 L177.90,77.67 L178.25,78.34 L178.60,79.07 L178.95,79.85 L179.30,80.68 L179.65,81.54 L180.00,82.42 L180.35,83.30 L180.70,84.19 L181.05,85.05 L181.40,85.90 L181.75,86.70 L182.10,87.46 L182.45,88.15 L182.80,88.77 L183.15,89.31 L183.50,89.75 L183.85,90.09 L184.20,90.31 L184.55,90.40 L184.90,90.31 L185.25,90.00 L185.60,89.50 L185.95,88.83 L186.30,88.04 L186.65,87.13 L187.00,86.16 L187.35,85.14 L187.70,84.11 L188.05,83.10 L188.40,82.13 L188.75,81.24 L189.10,80.46 L189.45,79.82 L189.80,79.34 L190.15,79.06 L190.50,79.01 L190.85,79.15 L191.20,79.46 L191.55,79.90 L191.90,80.47 L192.25,81.14 L192.60,81.88 L192.95,82.68 L193.30,83.52 L193.65,84.36 L194.00,85.20 L194.35,86.00 L194.70,86.76 L195.05,87.44 L195.40,88.02 L195.75,88.49 L196.10,88.82 L196.45,88.98 L196.80,89.00 L197.15,89.00 L197.50,89.00 L197.85,89.00 L198.20,89.00 L198.55,89.00 L198.90,89.00 L199.25,89.00 L199.60,88.99 L199.95,88.87 L200.30,88.60 L200.65,88.21 L201.00,87.71 L201.35,87.13 L201.70,86.48 L202.05,85.79 L202.40,85.06 L202.75,84.33 L203.10,83.61 L203.45,82.92 L203.80,82.28 L204.15,81.71 L204.50,81.23 L204.85,80.85 L205.20,80.60 L205.55,80.50 L205.90,80.58 L206.25,80.84 L206.60,81.27 L206.95,81.85 L207.30,82.55 L207.65,83.34 L208.00,84.20 L208.35,85.11 L208.70,86.05 L209.05,86.99 L209.40,87.90 L209.75,88.76 L210.10,89.55 L210.45,90.25 L210.80,90.83 L211.15,91.26 L211.50,91.52 L211.85,91.60 L212.20,91.52 L212.55,91.33 L212.90,91.04 L213.25,90.66 L213.60,90.21 L213.95,89.69 L214.30,89.13 L214.65,88.52 L215.00,87.89 L215.35,87.24 L215.70,86.60 L216.05,85.96 L216.40,85.34 L216.75,84.76 L217.10,84.23 L217.45,83.76 L217.80,83.36 L218.15,83.04 L218.50,82.82 L218.85,82.71 L219.20,82.72 L219.55,82.86 L219.90,83.12 L220.25,83.48 L220.60,83.93 L220.95,84.46 L221.30,85.05 L221.65,85.70 L222.00,86.38 L222.35,87.08 L222.70,87.80 L223.05,88.52 L223.40,89.22 L223.75,89.89 L224.10,90.52 L224.45,91.10 L224.80,91.61 L225.15,92.03 L225.50,92.37 L225.85,92.59 L226.20,92.69 L226.55,92.67 L226.90,92.52 L227.25,92.27 L227.60,91.93 L227.95,91.51 L228.30,91.03 L228.65,90.50 L229.00,89.93 L229.35,89.34 L229.70,88.74 L230.05,88.15 L230.40,87.58 L230.75,87.04 L231.10,86.55 L231.45,86.13 L231.80,85.77 L232.15,85.51 L232.50,85.35 L232.85,85.30 L233.20,85.36 L233.55,85.51 L233.90,85.74 L234.25,86.05 L234.60,86.41 L234.95,86.83 L235.30,87.29 L235.65,87.79 L236.00,88.32 L236.35,88.86 L236.70,89.42 L237.05,89.98 L237.40,90.53 L237.75,91.06 L238.10,91.57 L238.45,92.04 L238.80,92.48 L239.15,92.86 L239.50,93.18 L239.85,93.43 L240.20,93.60 L240.55,93.69 L240.90,93.68 L241.25,93.55 L241.60,93.31 L241.95,92.98 L242.30,92.58 L242.65,92.10 L243.00,91.58 L243.35,91.01 L243.70,90.43 L244.05,89.83 L244.40,89.24 L244.75,88.66 L245.10,88.12 L245.45,87.62 L245.80,87.18 L246.15,86.82 L246.50,86.54 L246.85,86.36 L247.20,86.30 L247.55,86.35 L247.90,86.50 L248.25,86.73 L248.60,87.04 L248.95,87.42 L249.30,87.85 L249.65,88.33 L250.00,88.84 L250.35,89.39 L250.70,89.95 L251.05,90.51 L251.40,91.08 L251.75,91.63 L252.10,92.15 L252.45,92.65 L252.80,93.10 L253.15,93.51 L253.50,93.84 L253.85,94.11 L254.20,94.30 L254.55,94.39 L254.90,94.38 L255.25,94.28 L255.60,94.09 L255.95,93.83 L256.30,93.51 L256.65,93.13 L257.00,92.71 L257.35,92.26 L257.70,91.78 L258.05,91.30 L258.40,90.82 L258.75,90.34 L259.10,89.89 L259.45,89.47 L259.80,89.09 L260.15,88.77 L260.50,88.51 L260.85,88.32 L261.20,88.22 L261.55,88.21 L261.90,88.30 L262.25,88.49 L262.60,88.76 L262.95,89.09 L263.30,89.49 L263.65,89.93 L264.00,90.42 L264.35,90.93 L264.70,91.47 L265.05,92.00 L265.40,92.54 L265.75,93.06 L266.10,93.56 L266.45,94.03 L266.80,94.44 L267.15,94.81 L267.50,95.11 L267.85,95.33 L268.20,95.46 L268.55,95.50 L268.90,95.45 L269.25,95.32 L269.60,95.12 L269.95,94.86 L270.30,94.56 L270.65,94.21 L271.00,93.83 L271.35,93.42 L271.70,93.00 L272.05,92.58 L272.40,92.16 L272.75,91.74 L273.10,91.35 L273.45,90.99 L273.80,90.66 L274.15,90.38 L274.50,90.16 L274.85,90.00 L275.20,89.91 L275.55,89.91 L275.90,89.99 L276.25,90.15 L276.60,90.38 L276.95,90.67 L277.30,91.02 L277.65,91.41 L278.00,91.84 L278.35,92.30 L278.70,92.77 L279.05,93.26 L279.40,93.75 L279.75,94.23 L280.10,94.70 L280.45,95.15 L280.80,95.56 L281.15,95.93 L281.50,96.26 L281.85,96.53 L282.20,96.73 L282.55,96.86 L282.90,96.90 L283.25,96.87 L283.60,96.77 L283.95,96.61 L284.30,96.41 L284.65,96.16 L285.00,95.88 L285.35,95.56 L285.70,95.22 L286.05,94.87 L286.40,94.51 L286.75,94.14 L287.10,93.78 L287.45,93.43 L287.80,93.09 L288.15,92.78 L288.50,92.50 L288.85,92.26 L289.20,92.06 L289.55,91.91 L289.90,91.83 L290.25,91.80 L290.60,91.86 L290.95,91.99 L291.30,92.20 L291.65,92.47 L292.00,92.79 L292.35,93.15 L292.70,93.55 L293.05,93.97 L293.40,94.42 L293.75,94.86 L294.10,95.31 L294.45,95.75 L294.80,96.17 L295.15,96.56 L295.50,96.91 L295.85,97.22 L296.20,97.47 L296.55,97.65 L296.90,97.77 L297.25,97.80 L297.60,97.75 L297.95,97.64 L298.30,97.47 L298.65,97.24 L299.00,96.98 L299.35,96.68 L299.70,96.35 L300.05,96.00 L300.40,95.63 L300.75,95.27 L301.10,94.90 L301.45,94.55 L301.80,94.22 L302.15,93.91 L302.50,93.64 L302.85,93.41 L303.20,93.23 L303.55,93.11 L303.90,93.05 L304.25,93.07 L304.60,93.15 L304.95,93.30 L305.30,93.51 L305.65,93.76 L306.00,94.05 L306.35,94.38 L306.70,94.73 L307.05,95.10 L307.40,95.48 L307.75,95.87 L308.10,96.25 L308.45,96.62 L308.80,96.98 L309.15,97.31 L309.50,97.60 L309.85,97.86 L310.20,98.07 L310.55,98.23 L310.90,98.32 L311.25,98.35 L311.60,98.31 L311.95,98.21 L312.30,98.07 L312.65,97.88 L313.00,97.66 L313.35,97.40 L313.70,97.13 L314.05,96.84 L314.40,96.54 L314.75,96.24 L315.10,95.95 L315.45,95.67 L315.80,95.41 L316.15,95.18 L316.50,94.98 L316.85,94.82 L317.20,94.71 L317.55,94.66 L317.90,94.66 L318.25,94.72 L318.60,94.84 L318.95,95.01 L319.30,95.21 L319.65,95.46 L320.00,95.74 L320.35,96.04 L320.70,96.36 L321.05,96.70 L321.40,97.05 L321.75,97.40 L322.10,97.75 L322.45,98.09 L322.80,98.42 L323.15,98.74 L323.50,99.03 L323.85,99.28 L324.20,99.51 L324.55,99.69 L324.90,99.83 L325.25,99.92 L325.60,99.95 L325.95,99.92 L326.30,99.84 L326.65,99.71 L327.00,99.54 L327.35,99.34 L327.70,99.11 L328.05,98.86 L328.40,98.59 L328.75,98.31 L329.10,98.03 L329.45,97.75 L329.80,97.48 L330.15,97.22 L330.50,96.99 L330.85,96.78 L331.20,96.61 L331.55,96.48 L331.90,96.39 L332.25,96.35 L332.60,96.37 L332.95,96.44 L333.30,96.56 L333.65,96.72 L334.00,96.91 L334.35,97.14 L334.70,97.39 L335.05,97.66 L335.40,97.95 L335.75,98.25 L336.10,98.56 L336.45,98.87 L336.80,99.18 L337.15,99.47 L337.50,99.76 L337.85,100.02 L338.20,100.26 L338.55,100.48 L338.90,100.66 L339.25,100.80 L339.60,100.90 L339.95,100.94 L340.30,100.94 L340.65,100.89 L341.00,100.79 L341.35,100.65 L341.70,100.48 L342.05,100.28 L342.40,100.06 L342.75,99.82 L343.10,99.58 L343.45,99.33 L343.80,99.08 L344.15,98.84 L344.50,98.61 L344.85,98.40 L345.20,98.22 L345.55,98.07 L345.90,97.95 L346.25,97.88 L346.60,97.85 L346.95,97.88 L347.30,97.95 L347.65,98.07 L348.00,98.23 L348.35,98.42 L348.70,98.63 L349.05,98.88 L349.40,99.13 L349.75,99.41 L350.10,99.69 L350.45,99.97 L350.80,100.25 L351.15,100.53 L351.50,100.79 L351.85,101.03 L352.20,101.26 L352.55,101.45 L352.90,101.61 L353.25,101.74 L353.60,101.82 L353.95,101.85 L354.30,101.84 L354.65,101.78 L355.00,101.70 L355.35,101.58 L355.70,101.44 L356.05,101.28 L356.40,101.11 L356.75,100.92 L357.10,100.72 L357.45,100.52 L357.80,100.32 L358.15,100.13 L358.50,99.94 L358.85,99.77 L359.20,99.61 L359.55,99.48 L359.90,99.37 L360.25,99.30 L360.60,99.26 L360.95,99.25 L361.30,99.30 L361.65,99.38 L362.00,99.50 L362.35,99.65 L362.70,99.83 L363.05,100.03 L363.40,100.25 L363.75,100.48 L364.10,100.73 L364.45,100.98 L364.80,101.23 L365.15,101.48 L365.50,101.72 L365.85,101.95 L366.20,102.16 L366.55,102.35 L366.90,102.52 L367.25,102.66 L367.60,102.76 L367.95,102.83 L368.30,102.85 L368.65,102.83 L369.00,102.77 L369.35,102.68 L369.70,102.56 L370.05,102.42 L370.40,102.26 L370.75,102.09 L371.10,101.91 L371.45,101.72 L371.80,101.54 L372.15,101.36 L372.50,101.19 L372.85,101.03 L373.20,100.90 L373.55,100.79 L373.90,100.71 L374.25,100.66 L374.60,100.65 L374.95,100.68 L375.30,100.75 L375.65,100.85 L376.00,100.97 L376.35,101.12 L376.70,101.30 L377.05,101.49 L377.40,101.70 L377.75,101.91 L378.10,102.14 L378.45,102.37 L378.80,102.60 L379.15,102.82 L379.50,103.04 L379.85,103.25 L380.20,103.45 L380.55,103.63 L380.90,103.79 L381.25,103.92 L381.60,104.03 L381.95,104.10 L382.30,104.14 L382.65,104.15 L383.00,104.11 L383.35,104.04 L383.70,103.93 L384.05,103.81 L384.40,103.65 L384.75,103.49 L385.10,103.31 L385.45,103.12 L385.80,102.92 L386.15,102.73 L386.50,102.54 L386.85,102.36 L387.20,102.20 L387.55,102.06 L387.90,101.93 L388.25,101.84 L388.60,101.78 L388.95,101.75 L389.30,101.76 L389.65,101.81 L390.00,101.90 L390.35,102.01 L390.70,102.14 L391.05,102.30 L391.40,102.48 L391.75,102.67 L392.10,102.88 L392.45,103.09 L392.80,103.31 L393.15,103.53 L393.50,103.74 L393.85,103.95 L394.20,104.16 L394.55,104.35 L394.90,104.52 L395.25,104.68 L395.60,104.81 L395.95,104.92 L396.30,105.00 L396.65,105.04 L397.00,105.05 L397.35,105.02 L397.70,104.95 L398.05,104.85 L398.40,104.73 L398.75,104.58 L399.10,104.42 L399.45,104.24 L399.80,104.06 L400.15,103.87 L400.50,103.69 L400.85,103.51 L401.20,103.34 L401.55,103.19 L401.90,103.07 L402.25,102.96 L402.60,102.89 L402.95,102.85 L403.30,102.86 L403.65,102.90 L404.00,102.98 L404.35,103.09 L404.70,103.22 L405.05,103.38 L405.40,103.56 L405.75,103.76 L406.10,103.97 L406.45,104.18 L406.80,104.40 L407.15,104.62 L407.50,104.83 L407.85,105.04 L408.20,105.24 L408.55,105.42 L408.90,105.58 L409.25,105.71 L409.60,105.82 L409.95,105.90 L410.30,105.94 L410.65,105.95 L411.00,105.92 L411.35,105.88 L411.70,105.81 L412.05,105.73 L412.40,105.64 L412.75,105.53 L413.10,105.41 L413.45,105.29 L413.80,105.17 L414.15,105.04 L414.50,104.92 L414.85,104.80 L415.20,104.69 L415.55,104.59 L415.90,104.51 L416.25,104.44 L416.60,104.39 L416.95,104.36 L417.30,104.35 L417.65,104.38 L418.00,104.44 L418.35,104.53 L418.70,104.65 L419.05,104.78 L419.40,104.94 L419.75,105.11 L420.10,105.29 L420.45,105.48 L420.80,105.67 L421.15,105.87 L421.50,106.06 L421.85,106.24 L422.20,106.41 L422.55,106.57 L422.90,106.72 L423.25,106.84 L423.60,106.94 L423.95,107.01 L424.30,107.04 L424.65,107.05 L425.00,107.03 L425.35,106.99 L425.70,106.94 L426.05,106.87 L426.40,106.79 L426.75,106.70 L427.10,106.60 L427.45,106.50 L427.80,106.40 L428.15,106.29 L428.50,106.18 L428.85,106.08 L429.20,105.99 L429.55,105.90 L429.90,105.82 L430.25,105.75 L430.60,105.70 L430.95,105.67 L431.30,105.65 L431.65,105.66 L432.00,105.70 L432.35,105.77 L432.70,105.87 L433.05,106.00 L433.40,106.14 L433.75,106.30 L434.10,106.48 L434.45,106.66 L434.80,106.85 L435.15,107.05 L435.50,107.25 L435.85,107.44 L436.20,107.62 L436.55,107.80 L436.90,107.96 L437.25,108.10 L437.60,108.23 L437.95,108.33 L438.30,108.40 L438.65,108.44 L439.00,108.45 L439.35,108.43 L439.70,108.38 L440.05,108.32 L440.40,108.23 L440.75,108.13 L441.10,108.02 L441.45,107.90 L441.80,107.78 L442.15,107.65 L442.50,107.52 L442.85,107.40 L443.20,107.28 L443.55,107.17 L443.90,107.07 L444.25,106.98 L444.60,106.92 L444.95,106.87 L445.30,106.85 L445.65,106.86 L446.00,106.89 L446.35,106.96 L446.70,107.04 L447.05,107.15 L447.40,107.27 L447.75,107.41 L448.10,107.57 L448.45,107.73 L448.80,107.90 L449.15,108.07 L449.50,108.25 L449.85,108.43 L450.20,108.60 L450.55,108.77 L450.90,108.92 L451.25,109.07 L451.60,109.20 L451.95,109.32 L452.30,109.41 L452.65,109.48 L453.00,109.53 L453.35,109.55 L453.70,109.54 L454.05,109.51 L454.40,109.46 L454.75,109.39 L455.10,109.31 L455.45,109.22 L455.80,109.12 L456.15,109.01 L456.50,108.90 L456.85,108.79 L457.20,108.67 L457.55,108.57 L457.90,108.47 L458.25,108.37 L458.60,108.30 L458.95,108.23 L459.30,108.18 L459.65,108.16 L460.00,108.15 L460.35,108.17 L460.70,108.22 L461.05,108.30 L461.40,108.40 L461.75,108.51 L462.10,108.64 L462.45,108.79 L462.80,108.94 L463.15,109.11 L463.50,109.28 L463.85,109.45 L464.20,109.62 L464.55,109.79 L464.90,109.96 L465.25,110.11 L465.60,110.26 L465.95,110.39 L466.30,110.50 L466.65,110.60 L467.00,110.68 L467.35,110.73 L467.70,110.75 L468.05,110.74 L468.40,110.71 L468.75,110.66 L469.10,110.59 L469.45,110.51 L469.80,110.41 L470.15,110.30 L470.50,110.18 L470.85,110.07 L471.20,109.95 L471.55,109.83 L471.90,109.72 L472.25,109.62 L472.60,109.53 L472.95,109.46 L473.30,109.40 L473.65,109.36 L474.00,109.35 L474.35,109.36 L474.70,109.41 L475.05,109.48 L475.40,109.57 L475.75,109.68 L476.10,109.80 L476.45,109.95 L476.80,110.10 L477.15,110.26 L477.50,110.43 L477.85,110.60 L478.20,110.77 L478.55,110.94 L478.90,111.11 L479.25,111.27 L479.60,111.42 L479.95,111.55 L480.30,111.67 L480.65,111.78 L481.00,111.86 L481.35,111.91 L481.70,111.95 L482.05,111.95 L482.40,111.93 L482.75,111.89 L483.10,111.84 L483.45,111.77 L483.80,111.69 L484.15,111.60 L484.50,111.50 L484.85,111.40 L485.20,111.30 L485.55,111.20 L485.90,111.10 L486.25,111.00 L486.60,110.91 L486.95,110.83 L487.30,110.76 L487.65,110.71 L488.00,110.67 L488.35,110.65 L488.70,110.66 L489.05,110.69 L489.40,110.75 L489.75,110.83 L490.10,110.93 L490.45,111.05 L490.80,111.19 L491.15,111.34 L491.50,111.49 L491.85,111.66 L492.20,111.83 L492.55,111.99 L492.90,112.16 L493.25,112.32 L493.60,112.47 L493.95,112.61 L494.30,112.74 L494.65,112.84 L495.00,112.93 L495.35,113.00 L495.70,113.04 L496.05,113.05 L496.40,113.04 L496.75,113.01 L497.10,112.97 L497.45,112.91 L497.80,112.84 L498.15,112.77 L498.50,112.69 L498.85,112.60 L499.20,112.51 L499.55,112.42 L499.90,112.34 L500.25,112.25 L500.60,112.18 L500.95,112.11 L501.30,112.05 L501.65,112.00 L502.00,111.97 L502.35,111.95 L502.70,111.95 L503.05,111.98 L503.40,112.02 L503.75,112.08 L504.10,112.16 L504.45,112.25 L504.80,112.35 L505.15,112.46 L505.50,112.58 L505.85,112.71 L506.20,112.84 L506.55,112.97 L506.90,113.10 L507.25,113.23 L507.60,113.35 L507.95,113.47 L508.30,113.58 L508.65,113.68 L509.00,113.77 L509.35,113.84 L509.70,113.89 L510.05,113.93 L510.40,113.95 L510.75,113.95 L511.10,113.93 L511.45,113.90 L511.80,113.86 L512.15,113.81 L512.50,113.75 L512.85,113.68 L513.20,113.61 L513.55,113.54 L513.90,113.47 L514.25,113.40 L514.60,113.33 L514.95,113.26 L515.30,113.20 L515.65,113.15 L516.00,113.11 L516.35,113.08 L516.70,113.06 L517.05,113.05 L517.40,113.06 L517.75,113.07 L518.10,113.09 L518.45,113.13 L518.80,113.17 L519.15,113.21 L519.50,113.27 L519.85,113.33 L520.20,113.40 L520.55,113.48 L520.90,113.57 L521.25,113.66 L521.60,113.76 L521.95,113.87 L522.30,113.98 L522.65,114.10 L523.00,114.23 L523.35,114.36 L523.70,114.49 L524.05,114.64 L524.20,115.02 L524.60,115.04 L525.00,115.05 L525.40,115.04 L525.80,115.01 L526.20,114.97 L526.60,114.91 L527.00,114.85 L527.40,114.78 L527.80,114.70 L528.20,114.63 L528.60,114.56 L529.00,114.50 L529.40,114.45 L529.80,114.41 L530.20,114.39 L530.60,114.38 L531.00,114.39 L531.40,114.42 L531.80,114.47 L532.20,114.54 L532.60,114.62 L533.00,114.72 L533.40,114.83 L533.80,114.96 L534.20,115.09 L534.60,115.23 L535.00,115.37 L535.40,115.51 L535.80,115.64 L536.20,115.77 L536.60,115.89 L537.00,115.99 L537.40,116.08 L537.80,116.15 L538.20,116.21 L538.60,116.24 L539.00,116.26 L539.40,116.26 L539.80,116.24 L540.20,116.21 L540.60,116.17 L541.00,116.11 L541.40,116.05 L541.80,115.98 L542.20,115.91 L542.60,115.85 L543.00,115.78 L543.40,115.73 L543.80,115.69 L544.20,115.66 L544.60,115.64 L545.00,115.64 L545.40,115.66 L545.80,115.70 L546.20,115.75 L546.60,115.82 L547.00,115.91 L547.40,116.01 L547.80,116.12 L548.20,116.25 L548.60,116.38 L549.00,116.51 L549.40,116.65 L549.80,116.78 L550.20,116.91 L550.60,117.03 L551.00,117.14 L551.40,117.23 L551.80,117.31 L552.20,117.37 L552.60,117.42 L553.00,117.45 L553.40,117.46 L553.80,117.46 L554.20,117.44 L554.60,117.40 L555.00,117.36 L555.40,117.30 L555.80,117.24 L556.20,117.18 L556.60,117.11 L557.00,117.05 L557.40,117.00 L557.80,116.95 L558.20,116.91 L558.60,116.89 L559.00,116.88 L559.40,116.89 L559.80,116.92 L560.20,116.96 L560.60,117.02 L561.00,117.09 L561.40,117.18 L561.80,117.29 L562.20,117.40 L562.60,117.52 L563.00,117.65 L563.40,117.78 L563.80,117.91 L564.20,118.03 L564.60,118.15 L565.00,118.27 L565.40,118.37 L565.80,118.45 L566.20,118.52 L566.60,118.58 L567.00,118.62 L567.40,118.64 L567.80,118.65 L568.20,118.64 L568.60,118.62 L569.00,118.58 L569.40,118.54 L569.80,118.48 L570.20,118.43 L570.60,118.37 L571.00,118.31 L571.40,118.25 L571.80,118.20 L572.20,118.16 L572.60,118.13 L573.00,118.12 L573.40,118.12 L573.80,118.13 L574.20,118.17 L574.60,118.21 L575.00,118.28 L575.40,118.35 L575.80,118.45 L576.20,118.55 L576.60,118.66 L577.00,118.78 L577.40,118.90 L577.80,119.03 L578.20,119.15 L578.60,119.27 L579.00,119.38 L579.40,119.48 L579.80,119.57 L580.20,119.65 L580.60,119.71 L581.00,119.76 L581.40,119.79 L581.80,119.81 L582.20,119.81 L582.60,119.80 L583.00,119.77 L583.40,119.74 L583.80,119.70 L584.20,119.65 L584.60,119.60 L585.00,119.55 L585.40,119.50 L585.80,119.45 L586.20,119.41 L586.60,119.38 L587.00,119.37 L587.40,119.36 L587.80,119.37 L588.20,119.40 L588.60,119.43 L589.00,119.49 L589.40,119.55 L589.80,119.63 L590.20,119.72 L590.60,119.82 L591.00,119.92 L591.40,120.03 L591.80,120.15 L592.20,120.26 L592.60,120.37 L593.00,120.47 L593.40,120.57 L593.80,120.66 L594.20,120.74 L594.60,120.80 L595.00,120.86 L595.40,120.90 L595.80,120.92 L596.20,120.94 L596.60,120.94 L597.00,120.93 L597.40,120.91 L597.80,120.88 L598.20,120.84 L598.60,120.80 L599.00,120.76 L599.40,120.72 L599.80,120.68 L600.20,120.65 L600.60,120.63 L601.00,120.61 L601.40,120.60 L601.80,120.61 L602.20,120.63 L602.60,120.65 L603.00,120.70 L603.40,120.75 L603.80,120.82 L604.20,120.89 L604.60,120.98 L605.00,121.07 L605.40,121.16 L605.80,121.26 L606.20,121.36 L606.60,121.46 L607.00,121.56 L607.40,121.65 L607.80,121.74 L608.20,121.82 L608.60,121.88 L609.00,121.94 L609.40,121.99 L609.80,122.02 L610.20,122.04 L610.60,122.05 L611.00,122.05 L611.40,122.05 L611.80,122.03 L612.20,122.01 L612.60,121.98 L613.00,121.95 L613.40,121.92 L613.80,121.90 L614.20,121.87 L614.60,121.85 L615.00,121.84 L615.40,121.83 L615.80,121.83 L616.20,121.85 L616.60,121.87 L617.00,121.90 L617.40,121.95 L617.80,122.00 L618.20,122.06 L618.60,122.14 L619.00,122.21 L619.40,122.30 L619.80,122.38 L620.20,122.47 L620.60,122.56 L621.00,122.65 L621.40,122.73 L621.80,122.81 L622.20,122.89 L622.60,122.95 L623.00,123.01 L623.40,123.06 L623.80,123.10 L624.20,123.13 L624.60,123.15 L625.00,123.16 L625.40,123.16 L625.80,123.16 L626.20,123.15 L626.60,123.13 L627.00,123.12 L627.40,123.10 L627.80,123.08 L628.20,123.06 L628.60,123.05 L629.00,123.04 L629.40,123.04 L629.80,123.05 L630.20,123.06 L630.60,123.08 L631.00,123.11 L631.40,123.14 L631.80,123.19 L632.20,123.24 L632.60,123.30 L633.00,123.37 L633.40,123.44 L633.80,123.51 L634.20,123.59 L634.60,123.66 L635.00,123.74 L635.40,123.81 L635.80,123.88 L636.20,123.95 L636.60,124.01 L637.00,124.06 L637.40,124.11 L637.80,124.15 L638.20,124.19 L638.60,124.21 L639.00,124.23 L639.40,124.25 L639.80,124.25 L640.20,124.26 L640.60,124.26 L641.00,124.25 L641.40,124.25 L641.80,124.24 L642.20,124.24 L642.60,124.23 L643.00,124.23 L643.40,124.24 L643.80,124.25 L644.20,124.26 L644.60,124.28 L645.00,124.31 L645.40,124.34 L645.80,124.38 L646.20,124.42 L646.60,124.47 L647.00,124.52 L647.40,124.58 L647.80,124.64 L648.20,124.70 L648.60,124.76 L649.00,124.83 L649.40,124.89 L649.80,124.95 L650.20,125.01 L650.60,125.06 L651.00,125.11 L651.40,125.16 L651.80,125.20 L652.20,125.23 L652.60,125.26 L653.00,125.29 L653.40,125.31 L653.80,125.33 L654.20,125.34 L654.60,125.35 L655.00,125.36 L655.40,125.37 L655.80,125.37 L656.20,125.38 L656.60,125.39 L657.00,125.40 L657.40,125.41 L657.80,125.42 L658.20,125.44 L658.60,125.47 L659.00,125.49 L659.40,125.52 L659.80,125.56 L660.20,125.59 L660.60,125.63 L661.00,125.68 L661.40,125.72 L661.80,125.77 L662.20,125.82 L662.60,125.87 L663.00,125.92 L663.40,125.97 L663.80,126.02 L664.20,126.07 L664.60,126.12 L665.00,126.16 L665.40,126.20 L665.80,126.24 L666.20,126.28 L666.60,126.31 L667.00,126.34 L667.40,126.37 L667.80,126.39 L668.20,126.41 L668.60,126.43 L669.00,126.45 L669.40,126.47 L669.80,126.48 L670.20,126.50 L670.60,126.51 L671.00,126.53 L671.40,126.55 L671.80,126.57 L672.20,126.59 L672.60,126.61 L673.00,126.64 L673.40,126.67 L673.80,126.70 L674.20,126.73 L674.60,126.77 L675.00,126.80 L675.40,126.84 L675.80,126.88 L676.20,126.93 L676.60,126.97 L677.00,127.01 L677.40,127.06 L677.80,127.10 L678.20,127.14 L678.60,127.18 L679.00,127.22 L679.40,127.26 L679.80,127.30 L680.20,127.33 L680.60,127.36 L681.00,127.39 L681.40,127.42 L681.80,127.45 L682.20,127.47 L682.60,127.50 L683.00,127.52 L683.40,127.55 L683.80,127.57 L684.20,127.59 L684.60,127.61 L685.00,127.64 L685.40,127.66 L685.80,127.69 L686.20,127.71 L686.60,127.74 L687.00,127.77 L687.40,127.80 L687.80,127.83 L688.20,127.86 L688.60,127.89 L689.00,127.93 L689.40,127.96 L689.80,128.00 L690.20,128.03 L690.60,128.07 L691.00,128.10 L691.40,128.14 L691.80,128.17 L692.20,128.21 L692.60,128.24 L693.00,128.28 L693.40,128.31 L693.80,128.34 L694.20,128.37 L694.60,128.40 L695.00,128.43 L695.40,128.46 L695.80,128.49 L696.20,128.52 L696.60,128.55 L697.00,128.58 L697.40,128.61 L697.80,128.64 L698.20,128.66 L698.60,128.69 L699.00,128.72 L699.40,128.75 L699.80,128.79 L700.20,128.82 L700.60,128.85 L701.00,128.88 L701.40,128.91 L701.80,128.94 L702.20,128.97 L702.60,129.00 L703.00,129.03 L703.40,129.06 L703.80,129.09 L704.20,129.12 L704.60,129.15 L705.00,129.18 L705.40,129.21 L705.80,129.24 L706.20,129.27 L706.60,129.30 L707.00,129.33 L707.40,129.37 L707.80,129.40 L708.20,129.43 L708.60,129.46 L709.00,129.49 L709.40,129.52 L709.80,129.55 L710.20,129.58 L710.60,129.61 L711.00,129.64 L711.40,129.67 L711.80,129.70 L712.20,129.73 L712.60,129.76 L713.00,129.79 L713.40,129.82 L713.80,129.85 L714.20,129.88 L714.60,129.91 L715.00,129.94 L715.40,129.97 L715.80,130.00 L716.20,130.03 L716.60,130.06 L717.00,130.09 L717.40,130.12 L717.80,130.15 L718.20,130.18 L718.60,130.21 L719.00,130.24 L719.40,130.27 L719.80,130.30 L720.20,130.33 L720.60,130.36 L721.00,130.39 L721.40,130.42 L721.80,130.45 L722.20,130.48 L722.60,130.51 L723.00,130.54 L723.40,130.57 L723.80,130.60 L724.20,130.63 L724.60,130.66 L725.00,130.69 L725.40,130.72 L725.80,130.75 L726.20,130.78 L726.60,130.81 L727.00,130.84 L727.40,130.87 L727.80,130.90 L728.20,130.93 L728.60,130.96 L729.00,130.99 L729.40,131.02 L729.80,131.05 L730.20,131.08 L730.60,131.11 L731.00,131.14 L731.40,131.17 L731.80,131.20 L732.20,131.23 L732.60,131.26 L733.00,131.29 L733.40,131.32 L733.80,131.35 L734.20,131.38 L734.60,131.41 L735.00,131.44 L735.40,131.47 L735.80,131.50 L736.20,131.53 L736.60,131.56 L737.00,131.59 L737.40,131.62 L737.80,131.65 L738.20,131.68 L738.60,131.71 L739.00,131.74 L739.40,131.77 L739.80,131.80 L740.20,131.83 L740.60,131.86 L741.00,131.89 L741.40,131.92 L741.80,131.94 L742.20,131.97 L742.60,132.00 L743.00,132.03 L743.40,132.06 L743.80,132.09 L744.20,132.12 L744.60,132.15 L745.00,132.18 L745.40,132.21 L745.80,132.24 L746.20,132.27 L746.60,132.30 L747.00,132.33 L747.40,132.36 L747.80,132.39 L748.20,132.42 L748.60,132.45 L749.00,132.48 L749.40,132.50 L749.80,132.53 L750.20,132.56 L750.60,132.59 L751.00,132.62 L751.40,132.65 L751.80,132.68 L752.20,132.71 L752.60,132.74 L753.00,132.77 L753.40,132.80 L753.80,132.83 L754.20,132.86 L754.60,132.89 L755.00,132.92 L755.40,132.94 L755.80,132.97 L756.20,133.00 L756.60,133.03 L757.00,133.06 L757.40,133.09 L757.80,133.12 L758.20,133.15 L758.60,133.18 L759.00,133.21 L759.40,133.24 L759.80,133.27 L760.20,133.29 L760.60,133.32 L761.00,133.35 L761.40,133.38 L761.80,133.41 L762.20,133.44 L762.60,133.47 L763.00,133.50 L763.40,133.53 L763.80,133.56 L764.20,133.59 L764.60,133.61 L765.00,133.64 L765.40,133.67 L765.80,133.70 L766.20,133.73 L766.60,133.76 L767.00,133.79 L767.40,133.82 L767.80,133.85 L768.20,133.87 L768.60,133.90 L769.00,133.93 L769.40,133.96 L769.80,133.99 L770.20,134.02 L770.60,134.05 L771.00,134.08 L771.40,134.11 L771.80,134.13 L772.20,134.16 L772.60,134.19 L773.00,134.22 L773.40,134.25 L773.80,134.28 L774.20,134.31 L774.60,134.34 L775.00,134.36 L775.40,134.39 L775.80,134.42 L776.20,134.45 L776.60,134.48 L777.00,134.51 L777.40,134.54 L777.80,134.57 L778.20,134.59 L778.60,134.62 L779.00,134.65 L779.40,134.68 L779.80,134.71 L780.20,134.74 L780.60,134.77 L781.00,134.80 L781.40,134.82 L781.80,134.85 L782.20,134.88 L782.60,134.91 L783.00,134.94 L783.40,134.97 L783.80,135.00 L784.20,135.02 L784.60,135.05 L785.00,135.08 L785.40,135.11 L785.80,135.14 L786.20,135.17 L786.60,135.19 L787.00,135.22 L787.40,135.25 L787.80,135.28 L788.20,135.31 L788.60,135.34 L789.00,135.37 L789.40,135.39 L789.80,135.42 L790.20,135.45 L790.60,135.48" stroke="#85C0F8" stroke-width="2.9"/>
<path d="M109.30,48.20 L109.65,48.20 L110.00,48.21 L110.35,48.22 L110.70,48.23 L111.05,48.25 L111.40,48.27 L111.75,48.29 L112.10,48.32 L112.45,48.35 L112.80,48.39 L113.15,48.44 L113.50,48.49 L113.85,48.54 L114.20,48.60 L114.55,49.05 L114.90,50.12 L115.25,51.55 L115.60,53.07 L115.95,54.44 L116.30,55.40 L116.65,55.65 L117.00,53.21 L117.35,48.36 L117.70,42.99 L118.05,38.94 L118.40,37.96 L118.75,38.93 L119.10,40.74 L119.45,42.94 L119.80,45.06 L120.15,46.65 L120.50,47.29 L120.85,47.58 L121.20,47.81 L121.55,48.01 L121.90,48.16 L122.25,48.30 L122.60,48.42 L122.95,48.53 L123.30,48.65 L123.65,48.78 L124.00,48.94 L124.35,49.13 L124.70,49.37 L125.05,49.65 L125.40,49.97 L125.75,50.31 L126.10,50.64 L126.45,50.97 L126.80,51.26 L127.15,51.52 L127.50,51.72 L127.85,51.85 L128.20,51.90 L128.55,51.27 L128.90,49.70 L129.25,47.65 L129.60,45.60 L129.95,44.03 L130.30,43.40 L130.65,45.04 L131.00,48.76 L131.35,52.73 L131.70,55.15 L132.05,55.03 L132.40,53.87 L132.75,51.98 L133.10,49.57 L133.45,46.85 L133.80,44.05 L134.15,41.36 L134.50,39.02 L134.85,37.21 L135.20,36.17 L135.55,36.19 L135.90,37.92 L136.25,40.96 L136.60,44.76 L136.95,48.72 L137.30,52.27 L137.65,54.82 L138.00,55.80 L138.35,55.53 L138.70,54.79 L139.05,53.73 L139.40,52.46 L139.75,51.13 L140.10,49.84 L140.45,48.74 L140.80,47.95 L141.15,47.61 L141.50,47.61 L141.85,47.65 L142.20,47.71 L142.55,47.79 L142.90,47.89 L143.25,48.00 L143.60,48.12 L143.95,48.25 L144.30,48.38 L144.65,48.51 L145.00,48.64 L145.35,48.77 L145.70,48.88 L146.05,48.98 L146.40,49.07 L146.75,49.14 L147.10,49.18 L147.45,49.20 L147.80,49.11 L148.15,48.83 L148.50,48.38 L148.85,47.81 L149.20,47.18 L149.55,46.52 L149.90,45.87 L150.25,45.30 L150.60,44.83 L150.95,44.51 L151.30,44.40 L151.65,44.74 L152.00,45.65 L152.35,46.94 L152.70,48.43 L153.05,49.95 L153.40,51.32 L153.75,52.35 L154.10,52.87 L154.45,52.80 L154.80,52.36 L155.15,51.64 L155.50,50.74 L155.85,49.75 L156.20,48.74 L156.55,47.80 L156.90,47.02 L157.25,46.50 L157.60,46.30 L157.95,46.38 L158.30,46.60 L158.65,46.91 L159.00,47.30 L159.35,47.71 L159.70,48.12 L160.05,48.49 L160.40,48.78 L160.75,48.96 L161.10,49.00 L161.45,48.97 L161.80,48.90 L162.15,48.80 L162.50,48.67 L162.85,48.52 L163.20,48.36 L163.55,48.18 L163.90,48.00 L164.25,47.82 L164.60,47.64 L164.95,47.48 L165.30,47.33 L165.65,47.20 L166.00,47.10 L166.35,47.03 L166.70,47.00 L167.05,47.08 L167.40,47.44 L167.75,48.02 L168.10,48.75 L168.45,49.58 L168.80,50.44 L169.15,51.26 L169.50,51.98 L169.85,52.53 L170.20,52.85 L170.55,52.88 L170.90,52.65 L171.25,52.22 L171.60,51.62 L171.95,50.89 L172.30,50.08 L172.65,49.22 L173.00,48.36 L173.35,47.53 L173.70,46.78 L174.05,46.14 L174.40,45.65 L174.75,45.36 L175.10,45.30 L175.45,45.37 L175.80,45.51 L176.15,45.73 L176.50,45.99 L176.85,46.31 L177.20,46.66 L177.55,47.03 L177.90,47.42 L178.25,47.82 L178.60,48.21 L178.95,48.59 L179.30,48.95 L179.65,49.27 L180.00,49.54 L180.35,49.76 L180.70,49.91 L181.05,49.99 L181.40,49.96 L181.75,49.75 L182.10,49.40 L182.45,48.99 L182.80,48.59 L183.15,48.28 L183.50,48.11 L183.85,48.22 L184.20,48.72 L184.55,49.45 L184.90,50.26 L185.25,50.97 L185.60,51.42 L185.95,51.47 L186.30,51.19 L186.65,50.66 L187.00,49.94 L187.35,49.09 L187.70,48.17 L188.05,47.23 L188.40,46.33 L188.75,45.53 L189.10,44.88 L189.45,44.46 L189.80,44.30 L190.15,44.40 L190.50,44.67 L190.85,45.08 L191.20,45.60 L191.55,46.21 L191.90,46.87 L192.25,47.54 L192.60,48.22 L192.95,48.85 L193.30,49.41 L193.65,49.87 L194.00,50.21 L194.35,50.38 L194.70,50.38 L195.05,50.26 L195.40,50.04 L195.75,49.76 L196.10,49.44 L196.45,49.11 L196.80,48.78 L197.15,48.50 L197.50,48.27 L197.85,48.13 L198.20,48.11 L198.55,48.21 L198.90,48.42 L199.25,48.70 L199.60,49.04 L199.95,49.40 L200.30,49.76 L200.65,50.09 L201.00,50.35 L201.35,50.53 L201.70,50.60 L202.05,50.52 L202.40,50.28 L202.75,49.93 L203.10,49.50 L203.45,49.01 L203.80,48.50 L204.15,48.00 L204.50,47.54 L204.85,47.15 L205.20,46.87 L205.55,46.72 L205.90,46.73 L206.25,46.92 L206.60,47.25 L206.95,47.70 L207.30,48.23 L207.65,48.80 L208.00,49.38 L208.35,49.95 L208.70,50.47 L209.05,50.90 L209.40,51.22 L209.75,51.38 L210.10,51.38 L210.45,51.29 L210.80,51.12 L211.15,50.90 L211.50,50.62 L211.85,50.32 L212.20,49.99 L212.55,49.67 L212.90,49.35 L213.25,49.06 L213.60,48.80 L213.95,48.60 L214.30,48.46 L214.65,48.40 L215.00,48.47 L215.35,48.67 L215.70,48.92 L216.05,49.16 L216.40,49.29 L216.75,49.28 L217.10,49.18 L217.45,49.01 L217.80,48.80 L218.15,48.54 L218.50,48.26 L218.85,47.98 L219.20,47.70 L219.55,47.44 L219.90,47.22 L220.25,47.04 L220.60,46.93 L220.95,46.90 L221.30,47.00 L221.65,47.24 L222.00,47.59 L222.35,48.03 L222.70,48.53 L223.05,49.07 L223.40,49.61 L223.75,50.14 L224.10,50.64 L224.45,51.06 L224.80,51.40 L225.15,51.62 L225.50,51.70 L225.85,51.62 L226.20,51.40 L226.55,51.06 L226.90,50.63 L227.25,50.12 L227.60,49.56 L227.95,48.97 L228.30,48.37 L228.65,47.80 L229.00,47.25 L229.35,46.77 L229.70,46.38 L230.05,46.09 L230.40,45.93 L230.75,45.90 L231.10,45.94 L231.45,46.00 L231.80,46.10 L232.15,46.22 L232.50,46.36 L232.85,46.51 L233.20,46.68 L233.55,46.86 L233.90,47.04 L234.25,47.22 L234.60,47.40 L234.95,47.57 L235.30,47.73 L235.65,47.87 L236.00,47.99 L236.35,48.09 L236.70,48.16 L237.05,48.21 L237.40,48.28 L237.75,48.38 L238.10,48.56 L238.45,48.78 L238.80,49.04 L239.15,49.33 L239.50,49.61 L239.85,49.89 L240.20,50.15 L240.55,50.36 L240.90,50.51 L241.25,50.59 L241.60,50.58 L241.95,50.44 L242.30,50.20 L242.65,49.87 L243.00,49.49 L243.35,49.06 L243.70,48.62 L244.05,48.19 L244.40,47.79 L244.75,47.43 L245.10,47.15 L245.45,46.97 L245.80,46.90 L246.15,46.93 L246.50,47.00 L246.85,47.11 L247.20,47.26 L247.55,47.43 L247.90,47.63 L248.25,47.83 L248.60,48.04 L248.95,48.26 L249.30,48.46 L249.65,48.65 L250.00,48.82 L250.35,48.97 L250.70,49.08 L251.05,49.15 L251.40,49.20 L251.75,49.25 L252.10,49.32 L252.45,49.44 L252.80,49.59 L253.15,49.77 L253.50,49.98 L253.85,50.19 L254.20,50.42 L254.55,50.63 L254.90,50.84 L255.25,51.03 L255.60,51.18 L255.95,51.30 L256.30,51.38 L256.65,51.40 L257.00,51.32 L257.35,51.14 L257.70,50.87 L258.05,50.53 L258.40,50.14 L258.75,49.73 L259.10,49.31 L259.45,48.90 L259.80,48.52 L260.15,48.19 L260.50,47.93 L260.85,47.76 L261.20,47.70 L261.55,47.74 L261.90,47.86 L262.25,48.05 L262.60,48.30 L262.95,48.59 L263.30,48.91 L263.65,49.25 L264.00,49.60 L264.35,49.95 L264.70,50.29 L265.05,50.60 L265.40,50.88 L265.75,51.11 L266.10,51.28 L266.45,51.38 L266.80,51.40 L267.15,51.38 L267.50,51.32 L267.85,51.25 L268.20,51.15 L268.55,51.03 L268.90,50.89 L269.25,50.73 L269.60,50.56 L269.95,50.38 L270.30,50.19 L270.65,49.99 L271.00,49.79 L271.35,49.58 L271.70,49.37 L272.05,49.17 L272.40,48.97 L272.75,48.77 L273.10,48.59 L273.45,48.42 L273.80,48.26 L274.15,48.11 L274.50,47.99 L274.85,47.88 L275.20,47.80 L275.55,47.74 L275.90,47.70 L276.25,47.71 L276.60,47.78 L276.95,47.92 L277.30,48.11 L277.65,48.35 L278.00,48.63 L278.35,48.94 L278.70,49.26 L279.05,49.60 L279.40,49.93 L279.75,50.25 L280.10,50.55 L280.45,50.82 L280.80,51.05 L281.15,51.23 L281.50,51.35 L281.85,51.40 L282.20,51.38 L282.55,51.31 L282.90,51.19 L283.25,51.03 L283.60,50.84 L283.95,50.62 L284.30,50.38 L284.65,50.13 L285.00,49.86 L285.35,49.60 L285.70,49.34 L286.05,49.08 L286.40,48.85 L286.75,48.63 L287.10,48.44 L287.45,48.29 L287.80,48.18 L288.15,48.11 L288.50,48.10 L288.85,48.11 L289.20,48.14 L289.55,48.17 L289.90,48.22 L290.25,48.27 L290.60,48.33 L290.95,48.39 L291.30,48.46 L291.65,48.53 L292.00,48.60 L292.35,48.69 L292.70,48.80 L293.05,48.95 L293.40,49.11 L293.75,49.29 L294.10,49.49 L294.45,49.69 L294.80,49.89 L295.15,50.09 L295.50,50.28 L295.85,50.46 L296.20,50.62 L296.55,50.76 L296.90,50.87 L297.25,50.95 L297.60,50.99 L297.95,51.00 L298.30,50.97 L298.65,50.92 L299.00,50.84 L299.35,50.73 L299.70,50.60 L300.05,50.45 L300.40,50.27 L300.75,50.07 L301.10,49.85 L301.45,49.61 L301.80,49.35 L302.15,49.07 L302.50,48.77 L302.85,48.45 L302.90,48.40 L303.30,48.42 L303.70,48.48 L304.10,48.58 L304.50,48.72 L304.90,48.88 L305.30,49.07 L305.70,49.28 L306.10,49.51 L306.50,49.74 L306.90,49.96 L307.30,50.19 L307.70,50.39 L308.10,50.58 L308.50,50.74 L308.90,50.86 L309.30,50.95 L309.70,51.01 L310.10,51.02 L310.50,50.99 L310.90,50.92 L311.30,50.82 L311.70,50.68 L312.10,50.51 L312.50,50.32 L312.90,50.11 L313.30,49.88 L313.70,49.66 L314.10,49.43 L314.50,49.22 L314.90,49.02 L315.30,48.84 L315.70,48.69 L316.10,48.58 L316.50,48.50 L316.90,48.45 L317.30,48.45 L317.70,48.49 L318.10,48.57 L318.50,48.68 L318.90,48.83 L319.30,49.01 L319.70,49.21 L320.10,49.42 L320.50,49.65 L320.90,49.88 L321.30,50.10 L321.70,50.32 L322.10,50.52 L322.50,50.69 L322.90,50.83 L323.30,50.94 L323.70,51.02 L324.10,51.05 L324.50,51.05 L324.90,51.00 L325.30,50.92 L325.70,50.80 L326.10,50.65 L326.50,50.47 L326.90,50.27 L327.30,50.05 L327.70,49.83 L328.10,49.60 L328.50,49.38 L328.90,49.17 L329.30,48.98 L329.70,48.82 L330.10,48.68 L330.50,48.58 L330.90,48.52 L331.30,48.50 L331.70,48.51 L332.10,48.57 L332.50,48.66 L332.90,48.79 L333.30,48.95 L333.70,49.14 L334.10,49.35 L334.50,49.57 L334.90,49.79 L335.30,50.02 L335.70,50.24 L336.10,50.45 L336.50,50.63 L336.90,50.79 L337.30,50.92 L337.70,51.02 L338.10,51.07 L338.50,51.09 L338.90,51.07 L339.30,51.01 L339.70,50.91 L340.10,50.77 L340.50,50.61 L340.90,50.42 L341.30,50.21 L341.70,49.99 L342.10,49.77 L342.50,49.55 L342.90,49.33 L343.30,49.13 L343.70,48.95 L344.10,48.80 L344.50,48.68 L344.90,48.60 L345.30,48.55 L345.70,48.55 L346.10,48.58 L346.50,48.66 L346.90,48.76 L347.30,48.91 L347.70,49.08 L348.10,49.27 L348.50,49.49 L348.90,49.71 L349.30,49.94 L349.70,50.16 L350.10,50.37 L350.50,50.57 L350.90,50.75 L351.30,50.89 L351.70,51.01 L352.10,51.08 L352.50,51.12 L352.90,51.12 L353.30,51.08 L353.70,51.00 L354.10,50.89 L354.50,50.74 L354.90,50.57 L355.30,50.37 L355.70,50.16 L356.10,49.94 L356.50,49.71 L356.90,49.49 L357.30,49.29 L357.70,49.10 L358.10,48.93 L358.50,48.79 L358.90,48.69 L359.30,48.62 L359.70,48.60 L360.10,48.61 L360.50,48.66 L360.90,48.75 L361.30,48.87 L361.70,49.03 L362.10,49.21 L362.50,49.41 L362.90,49.63 L363.30,49.85 L363.70,50.08 L364.10,50.30 L364.50,50.50 L364.90,50.69 L365.30,50.85 L365.70,50.98 L366.10,51.08 L366.50,51.14 L366.90,51.16 L367.30,51.15 L367.70,51.09 L368.10,50.99 L368.50,50.87 L368.90,50.71 L369.30,50.52 L369.70,50.32 L370.10,50.10 L370.50,49.88 L370.90,49.66 L371.30,49.45 L371.70,49.25 L372.10,49.07 L372.50,48.91 L372.90,48.79 L373.30,48.70 L373.70,48.65 L374.10,48.64 L374.50,48.67 L374.90,48.74 L375.30,48.84 L375.70,48.98 L376.10,49.15 L376.50,49.34 L376.90,49.55 L377.30,49.77 L377.70,49.99 L378.10,50.22 L378.50,50.43 L378.90,50.63 L379.30,50.80 L379.70,50.95 L380.10,51.07 L380.50,51.15 L380.90,51.19 L381.30,51.20 L381.70,51.16 L382.10,51.09 L382.50,50.98 L382.90,50.84 L383.30,50.67 L383.70,50.48 L384.10,50.27 L384.50,50.05 L384.90,49.83 L385.30,49.61 L385.70,49.40 L386.10,49.21 L386.50,49.04 L386.90,48.90 L387.30,48.80 L387.70,48.73 L388.10,48.69 L388.50,48.70 L388.90,48.75 L389.30,48.83 L389.70,48.95 L390.10,49.10 L390.50,49.28 L390.90,49.47 L391.30,49.69 L391.70,49.91 L392.10,50.13 L392.50,50.35 L392.90,50.56 L393.30,50.75 L393.70,50.91 L394.10,51.04 L394.50,51.15 L394.90,51.21 L395.30,51.24 L395.70,51.22 L396.10,51.17 L396.50,51.08 L396.90,50.96 L397.30,50.81 L397.70,50.63 L398.10,50.43 L398.50,50.21 L398.90,49.99 L399.30,49.77 L399.70,49.56 L400.10,49.36 L400.50,49.18 L400.90,49.02 L401.30,48.90 L401.70,48.81 L402.10,48.76 L402.50,48.74 L402.90,48.76 L403.30,48.83 L403.70,48.93 L404.10,49.06 L404.50,49.22 L404.90,49.41 L405.30,49.61 L405.70,49.83 L406.10,50.05 L406.50,50.27 L406.90,50.48 L407.30,50.68 L407.70,50.86 L408.10,51.01 L408.50,51.13 L408.90,51.22 L409.30,51.26 L409.70,51.27 L410.10,51.24 L410.50,51.17 L410.90,51.07 L411.30,50.93 L411.70,50.77 L412.10,50.58 L412.50,50.38 L412.90,50.16 L413.30,49.94 L413.70,49.72 L414.10,49.51 L414.50,49.32 L414.90,49.15 L415.30,49.01 L415.70,48.90 L416.10,48.83 L416.50,48.79 L416.90,48.79 L417.30,48.84 L417.70,48.91 L418.10,49.03 L418.50,49.17 L418.90,49.35 L419.30,49.54 L419.70,49.75 L420.10,49.97 L420.50,50.19 L420.90,50.41 L421.30,50.61 L421.70,50.80 L422.10,50.97 L422.50,51.10 L422.90,51.21 L423.30,51.28 L423.70,51.31 L424.10,51.30 L424.50,51.25 L424.90,51.17 L425.30,51.05 L425.70,50.90 L426.10,50.72 L426.50,50.53 L426.90,50.32 L427.30,50.10 L427.70,49.88 L428.10,49.67 L428.50,49.47 L428.90,49.29 L429.30,49.13 L429.70,49.01 L430.10,48.91 L430.50,48.85 L430.90,48.83 L431.30,48.85 L431.70,48.91 L432.10,49.00 L432.50,49.13 L432.90,49.29 L433.30,49.47 L433.70,49.67 L434.10,49.88 L434.50,50.10 L434.90,50.32 L435.30,50.53 L435.70,50.73 L436.10,50.91 L436.50,51.06 L436.90,51.18 L437.30,51.27 L437.70,51.32 L438.10,51.33 L438.50,51.31 L438.90,51.24 L439.30,51.15 L439.70,51.01 L440.10,50.85 L440.50,50.67 L440.90,50.47 L441.30,50.26 L441.70,50.04 L442.10,49.83 L442.50,49.62 L442.90,49.43 L443.30,49.26 L443.70,49.12 L444.10,49.00 L444.50,48.93 L444.90,48.88 L445.30,48.88 L445.70,48.92 L446.10,48.99 L446.50,49.10 L446.90,49.24 L447.30,49.41 L447.70,49.59 L448.10,49.80 L448.50,50.01 L448.90,50.23 L449.30,50.45 L449.70,50.65 L450.10,50.84 L450.50,51.01 L450.90,51.14 L451.30,51.25 L451.70,51.32 L452.10,51.36 L452.50,51.35 L452.90,51.31 L453.30,51.23 L453.70,51.12 L454.10,50.98 L454.50,50.81 L454.90,50.62 L455.30,50.41 L455.70,50.20 L456.10,49.98 L456.50,49.77 L456.90,49.57 L457.30,49.39 L457.70,49.23 L458.10,49.11 L458.50,49.01 L458.90,48.95 L459.30,48.92 L459.70,48.94 L460.10,48.99 L460.50,49.08 L460.90,49.20 L461.30,49.35 L461.70,49.53 L462.10,49.72 L462.50,49.93 L462.90,50.15 L463.30,50.36 L463.70,50.57 L464.10,50.77 L464.50,50.95 L464.90,51.10 L465.30,51.22 L465.70,51.31 L466.10,51.37 L466.50,51.39 L466.90,51.37 L467.30,51.31 L467.70,51.22 L468.10,51.09 L468.50,50.94 L468.90,50.76 L469.30,50.56 L469.70,50.35 L470.10,50.14 L470.50,49.93 L470.90,49.72 L471.30,49.53 L471.70,49.36 L472.10,49.22 L472.50,49.10 L472.90,49.02 L473.30,48.98 L473.70,48.97 L474.10,49.00 L474.50,49.07 L474.90,49.17 L475.30,49.30 L475.70,49.47 L476.10,49.65 L476.50,49.85 L476.90,50.06 L477.30,50.28 L477.70,50.49 L478.10,50.69 L478.50,50.88 L478.90,51.05 L479.30,51.19 L479.70,51.30 L480.10,51.37 L480.50,51.41 L480.90,51.41 L481.30,51.37 L481.70,51.30 L482.10,51.19 L482.50,51.05 L482.90,50.89 L483.30,50.70 L483.70,50.50 L484.10,50.29 L484.50,50.08 L484.90,49.87 L485.30,49.68 L485.70,49.49 L486.10,49.34 L486.50,49.21 L486.90,49.11 L487.30,49.04 L487.70,49.01 L488.10,49.02 L488.50,49.07 L488.90,49.15 L489.30,49.27 L489.70,49.41 L490.10,49.58 L490.50,49.78 L490.90,49.98 L491.30,50.19 L491.70,50.41 L492.10,50.61 L492.50,50.81 L492.90,50.99 L493.30,51.14 L493.70,51.27 L494.10,51.36 L494.50,51.42 L494.90,51.44 L495.30,51.42 L495.70,51.37 L496.10,51.28 L496.50,51.16 L496.90,51.01 L497.30,50.84 L497.70,50.65 L498.10,50.45 L498.50,50.24 L498.90,50.03 L499.30,49.82 L499.70,49.63 L500.10,49.46 L500.50,49.32 L500.90,49.20 L501.30,49.12 L501.70,49.07 L502.10,49.06 L502.50,49.08 L502.90,49.15 L503.30,49.24 L503.70,49.37 L504.10,49.53 L504.50,49.71 L504.90,49.90 L505.30,50.11 L505.70,50.32 L506.10,50.53 L506.50,50.73 L506.90,50.92 L507.30,51.09 L507.70,51.23 L508.10,51.34 L508.50,51.42 L508.90,51.46 L509.30,51.46 L509.70,51.43 L510.10,51.36 L510.50,51.26 L510.90,51.13 L511.30,50.97 L511.70,50.79 L512.10,50.59 L512.50,50.39 L512.90,50.18 L513.30,49.97 L513.70,49.78 L514.10,49.60 L514.50,49.44 L514.90,49.31 L515.30,49.20 L515.70,49.14 L516.10,49.10 L516.50,49.11 L516.90,49.15 L517.30,49.23 L517.70,49.34 L518.10,49.48 L518.50,49.64 L518.90,49.83 L519.30,50.03 L519.70,50.24 L520.10,50.45 L520.50,50.65 L520.90,50.85 L521.30,51.03 L521.70,51.18 L522.10,51.31 L522.50,51.41 L522.90,51.47 L523.30,51.49 L523.70,51.48 L524.10,51.43 L524.50,51.35 L524.90,51.24 L525.30,51.09 L525.70,50.93 L526.10,50.74 L526.50,50.54 L526.90,50.33 L527.30,50.12 L527.70,49.92 L528.10,49.74 L528.50,49.56 L528.90,49.42 L529.30,49.30 L529.70,49.21 L530.10,49.16 L530.50,49.15 L530.90,49.17 L531.30,49.22 L531.70,49.32 L532.10,49.44 L532.50,49.59 L532.90,49.76 L533.30,49.95 L533.70,50.16 L534.10,50.37 L534.50,50.57 L534.90,50.77 L535.30,50.96 L535.70,51.13 L536.10,51.27 L536.50,51.38 L536.90,51.46 L537.30,51.51 L537.70,51.52 L538.10,51.49 L538.50,51.43 L538.90,51.33 L539.30,51.21 L539.70,51.05 L540.10,50.88 L540.50,50.68 L540.90,50.48 L541.30,50.28 L541.70,50.07 L542.10,49.88 L542.50,49.70 L542.90,49.54 L543.30,49.40 L543.70,49.30 L544.10,49.23 L544.50,49.19 L544.90,49.19 L545.30,49.23 L545.70,49.30 L546.10,49.41 L546.50,49.54 L546.90,49.70 L547.30,49.88 L547.70,50.08 L548.10,50.29 L548.50,50.49 L548.90,50.70 L549.30,50.89 L549.70,51.07 L550.10,51.22 L550.50,51.35 L550.90,51.45 L551.30,51.52 L551.70,51.55 L552.10,51.54 L552.50,51.50 L552.90,51.42 L553.30,51.31 L553.70,51.17 L554.10,51.01 L554.50,50.83 L554.90,50.63 L555.30,50.43 L555.70,50.22 L556.10,50.02 L556.50,49.84 L556.90,49.67 L557.30,49.52 L557.70,49.40 L558.10,49.31 L558.50,49.25 L558.90,49.23 L559.30,49.25 L559.70,49.30 L560.10,49.39 L560.50,49.51 L560.90,49.65 L561.30,49.82 L561.70,50.01 L562.10,50.21 L562.50,50.41 L562.90,50.62 L563.30,50.82 L563.70,51.00 L564.10,51.17 L564.50,51.31 L564.90,51.43 L565.30,51.51 L565.70,51.56 L566.10,51.57 L566.50,51.55 L566.90,51.49 L567.30,51.40 L567.70,51.28 L568.10,51.13 L568.50,50.96 L568.90,50.77 L569.30,50.58 L569.70,50.37 L570.10,50.17 L570.50,49.98 L570.90,49.80 L571.30,49.64 L571.70,49.50 L572.10,49.40 L572.50,49.32 L572.90,49.29 L573.30,49.28 L573.70,49.31 L574.10,49.38 L574.50,49.48 L574.90,49.61 L575.30,49.76 L575.70,49.94 L576.10,50.13 L576.50,50.33 L576.90,50.54 L577.30,50.74 L577.70,50.93 L578.10,51.11 L578.50,51.26 L578.90,51.39 L579.30,51.50 L579.70,51.56 L580.10,51.60 L580.50,51.60 L580.90,51.56 L581.30,51.49 L581.70,51.38 L582.10,51.25 L582.50,51.09 L582.90,50.92 L583.30,50.73 L583.70,50.53 L584.10,50.33 L584.50,50.14 L584.90,49.96 L585.30,49.79 L585.70,49.65 L586.10,49.53 L586.50,49.44 L586.90,49.39 L587.30,49.36 L587.70,49.38 L588.10,49.43 L588.50,49.51 L588.90,49.62 L589.30,49.76 L589.70,49.92 L590.10,50.10 L590.50,50.29 L590.90,50.49 L591.30,50.69 L591.70,50.88 L592.10,51.06 L592.50,51.22 L592.90,51.36 L593.30,51.48 L593.70,51.56 L594.10,51.61 L594.50,51.63 L594.90,51.61 L595.30,51.56 L595.70,51.48 L596.10,51.37 L596.50,51.23 L596.90,51.07 L597.30,50.90 L597.70,50.71 L598.10,50.52 L598.50,50.33 L598.90,50.15 L599.30,49.98 L599.70,49.83 L600.10,49.71 L600.50,49.61 L600.90,49.53 L601.30,49.50 L601.70,49.49 L602.10,49.52 L602.50,49.58 L602.90,49.67 L603.30,49.79 L603.70,49.93 L604.10,50.10 L604.50,50.28 L604.90,50.46 L605.30,50.65 L605.70,50.84 L606.10,51.02 L606.50,51.19 L606.90,51.33 L607.30,51.46 L607.70,51.55 L608.10,51.62 L608.50,51.65 L608.90,51.66 L609.30,51.63 L609.70,51.56 L610.10,51.47 L610.50,51.35 L610.90,51.21 L611.30,51.05 L611.70,50.88 L612.10,50.70 L612.50,50.52 L612.90,50.34 L613.30,50.17 L613.70,50.02 L614.10,49.89 L614.50,49.77 L614.90,49.69 L615.30,49.64 L615.70,49.61 L616.10,49.62 L616.50,49.66 L616.90,49.74 L617.30,49.84 L617.70,49.96 L618.10,50.11 L618.50,50.27 L618.90,50.44 L619.30,50.63 L619.70,50.81 L620.10,50.98 L620.50,51.15 L620.90,51.30 L621.30,51.43 L621.70,51.54 L622.10,51.62 L622.50,51.67 L622.90,51.69 L623.30,51.68 L623.70,51.63 L624.10,51.56 L624.50,51.46 L624.90,51.34 L625.30,51.20 L625.70,51.04 L626.10,50.87 L626.50,50.70 L626.90,50.53 L627.30,50.36 L627.70,50.21 L628.10,50.07 L628.50,49.95 L628.90,49.85 L629.30,49.79 L629.70,49.75 L630.10,49.74 L630.50,49.76 L630.90,49.81 L631.30,49.89 L631.70,50.00 L632.10,50.13 L632.50,50.28 L632.90,50.44 L633.30,50.61 L633.70,50.78 L634.10,50.95 L634.50,51.12 L634.90,51.27 L635.30,51.41 L635.70,51.52 L636.10,51.61 L636.50,51.68 L636.90,51.71 L637.30,51.72 L637.70,51.69 L638.10,51.64 L638.50,51.56 L638.90,51.46 L639.30,51.33 L639.70,51.19 L640.10,51.03 L640.50,50.87 L640.90,50.70 L641.30,50.54 L641.70,50.39 L642.10,50.24 L642.50,50.12 L642.90,50.01 L643.30,49.93 L643.70,49.88 L644.10,49.86 L644.50,49.86 L644.90,49.89 L645.30,49.96 L645.70,50.04 L646.10,50.16 L646.50,50.29 L646.90,50.44 L647.30,50.60 L647.70,50.76 L648.10,50.93 L648.50,51.09 L648.90,51.25 L649.30,51.39 L649.70,51.52 L650.10,51.62 L650.50,51.70 L650.90,51.75 L651.30,51.77 L651.70,51.76 L652.10,51.73 L652.50,51.67 L652.90,51.58 L653.30,51.47 L653.70,51.34 L654.10,51.19 L654.50,51.03 L654.90,50.87 L655.30,50.71 L655.70,50.56 L656.10,50.41 L656.50,50.28 L656.90,50.16 L657.30,50.07 L657.70,50.00 L658.10,49.96 L658.50,49.95 L658.90,49.97 L659.30,50.01 L659.70,50.08 L660.10,50.18 L660.50,50.30 L660.90,50.44 L661.30,50.59 L661.70,50.75 L662.10,50.91 L662.50,51.08 L662.90,51.23 L663.30,51.38 L663.70,51.51 L664.10,51.63 L664.50,51.72 L664.90,51.78 L665.30,51.82 L665.70,51.83 L666.10,51.81 L666.50,51.76 L666.90,51.69 L667.30,51.59 L667.70,51.48 L668.10,51.34 L668.50,51.19 L668.90,51.04 L669.30,50.88 L669.70,50.72 L670.10,50.57 L670.50,50.44 L670.90,50.31 L671.30,50.21 L671.70,50.13 L672.10,50.08 L672.50,50.05 L672.90,50.05 L673.30,50.08 L673.70,50.14 L674.10,50.22 L674.50,50.32 L674.90,50.45 L675.30,50.59 L675.70,50.74 L676.10,50.90 L676.50,51.06 L676.90,51.22 L677.30,51.37 L677.70,51.51 L678.10,51.63 L678.50,51.73 L678.90,51.81 L679.30,51.86 L679.70,51.89 L680.10,51.88 L680.50,51.85 L680.90,51.80 L681.30,51.71 L681.70,51.61 L682.10,51.49 L682.50,51.35 L682.90,51.20 L683.30,51.05 L683.70,50.89 L684.10,50.74 L684.50,50.60 L684.90,50.47 L685.30,50.36 L685.70,50.26 L686.10,50.20 L686.50,50.16 L686.90,50.14 L687.30,50.15 L687.70,50.20 L688.10,50.26 L688.50,50.35 L688.90,50.46 L689.30,50.59 L689.70,50.74 L690.10,50.89 L690.50,51.05 L690.90,51.20 L691.30,51.36 L691.70,51.50 L692.10,51.63 L692.50,51.74 L692.90,51.83 L693.30,51.89 L693.70,51.93 L694.10,51.95 L694.50,51.93 L694.90,51.89 L695.30,51.82 L695.70,51.73 L696.10,51.62 L696.50,51.50 L696.90,51.36 L697.30,51.21 L697.70,51.06 L698.10,50.90 L698.50,50.76 L698.90,50.63 L699.30,50.51 L699.70,50.41 L700.10,50.33 L700.50,50.27 L700.90,50.24 L701.30,50.24 L701.70,50.26 L702.10,50.31 L702.50,50.38 L702.90,50.48 L703.30,50.60 L703.70,50.73 L704.10,50.87 L704.50,51.02 L704.90,51.18 L705.30,51.33 L705.70,51.47 L706.10,51.60 L706.50,51.72 L706.90,51.82 L707.30,51.90 L707.70,51.95 L708.10,51.97 L708.50,51.97 L708.90,51.95 L709.30,51.89 L709.70,51.82 L710.10,51.72 L710.50,51.60 L710.90,51.47 L711.30,51.33 L711.70,51.18 L712.10,51.03 L712.50,50.88 L712.90,50.74 L713.30,50.62 L713.70,50.51 L714.10,50.42 L714.50,50.35 L714.90,50.30 L715.30,50.28 L715.70,50.29 L716.10,50.33 L716.50,50.39 L716.90,50.47 L717.30,50.57 L717.70,50.69 L718.10,50.83 L718.50,50.97 L718.90,51.12 L719.30,51.27 L719.70,51.42 L720.10,51.55 L720.50,51.68 L720.90,51.78 L721.30,51.87 L721.70,51.94 L722.10,51.98 L722.50,51.99 L722.90,51.98 L723.30,51.94 L723.70,51.88 L724.10,51.79 L724.50,51.69 L724.90,51.57 L725.30,51.43 L725.70,51.29 L726.10,51.14 L726.50,51.00 L726.90,50.86 L727.30,50.73 L727.70,50.61 L728.10,50.51 L728.50,50.43 L728.90,50.37 L729.30,50.34 L729.70,50.33 L730.10,50.35 L730.50,50.40 L730.90,50.47 L731.30,50.56 L731.70,50.67 L732.10,50.79 L732.50,50.93 L732.90,51.07 L733.30,51.22 L733.70,51.36 L734.10,51.50 L734.50,51.63 L734.90,51.75 L735.30,51.84 L735.70,51.92 L736.10,51.97 L736.50,52.00 L736.90,52.00 L737.30,51.98 L737.70,51.93 L738.10,51.86 L738.50,51.77 L738.90,51.66 L739.30,51.53 L739.70,51.40 L740.10,51.26 L740.50,51.11 L740.90,50.97 L741.30,50.84 L741.70,50.72 L742.10,50.61 L742.50,50.52 L742.90,50.45 L743.30,50.41 L743.70,50.39 L744.10,50.39 L744.50,50.42 L744.90,50.47 L745.30,50.55 L745.70,50.65 L746.10,50.76 L746.50,50.89 L746.90,51.03 L747.30,51.17 L747.70,51.31 L748.10,51.45 L748.50,51.58 L748.90,51.70 L749.30,51.81 L749.70,51.89 L750.10,51.96 L750.50,52.00 L750.90,52.01 L751.30,52.01 L751.70,51.97 L752.10,51.92 L752.50,51.84 L752.90,51.74 L753.30,51.63 L753.70,51.50 L754.10,51.36 L754.50,51.22 L754.90,51.08 L755.30,50.95 L755.70,50.82 L756.10,50.71 L756.50,50.61 L756.90,50.53 L757.30,50.48 L757.70,50.44 L758.10,50.43 L758.50,50.45 L758.90,50.49 L759.30,50.55 L759.70,50.64 L760.10,50.74 L760.50,50.86 L760.90,50.99 L761.30,51.12 L761.70,51.26 L762.10,51.40 L762.50,51.53 L762.90,51.66 L763.30,51.77 L763.70,51.86 L764.10,51.94 L764.50,51.99 L764.90,52.02 L765.30,52.03 L765.70,52.01 L766.10,51.96 L766.50,51.90 L766.90,51.81 L767.30,51.71 L767.70,51.59 L768.10,51.47 L768.50,51.33 L768.90,51.20 L769.30,51.06 L769.70,50.93 L770.10,50.81 L770.50,50.71 L770.90,50.62 L771.30,50.55 L771.70,50.51 L772.10,50.49 L772.50,50.49 L772.90,50.51 L773.30,50.56 L773.70,50.63 L774.10,50.72 L774.50,50.83 L774.90,50.95 L775.30,51.08 L775.70,51.22 L776.10,51.35 L776.50,51.49 L776.90,51.61 L777.30,51.73 L777.70,51.83 L778.10,51.92 L778.50,51.98 L778.90,52.02 L779.30,52.04 L779.70,52.03 L780.10,52.00 L780.50,51.95 L780.90,51.88 L781.30,51.79 L781.70,51.68 L782.10,51.56 L782.50,51.44 L782.90,51.30 L783.30,51.17 L783.70,51.04 L784.10,50.92 L784.50,50.81 L784.90,50.71 L785.30,50.64 L785.70,50.58 L786.10,50.55 L786.50,50.53 L786.90,50.55 L787.30,50.58 L787.70,50.64 L788.10,50.72 L788.50,50.81 L788.90,50.92 L789.30,51.04 L789.70,51.17 L790.10,51.31 L790.50,51.44 L790.90,51.57" stroke="#0E2682" stroke-width="2.9"/>
</g>
<g stroke="#000" stroke-width="1.48" fill="none">
<line x1="108.85" y1="522.0" x2="108.85" y2="528.3"/>
<line x1="194.11" y1="522.0" x2="194.11" y2="528.3"/>
<line x1="279.36" y1="522.0" x2="279.36" y2="528.3"/>
<line x1="364.62" y1="522.0" x2="364.62" y2="528.3"/>
<line x1="449.88" y1="522.0" x2="449.88" y2="528.3"/>
<line x1="535.13" y1="522.0" x2="535.13" y2="528.3"/>
<line x1="620.39" y1="522.0" x2="620.39" y2="528.3"/>
<line x1="705.64" y1="522.0" x2="705.64" y2="528.3"/>
<line x1="790.90" y1="522.0" x2="790.90" y2="528.3"/>
<line x1="108.85" y1="48.10" x2="102.55" y2="48.10"/>
<line x1="108.85" y1="131.69" x2="102.55" y2="131.69"/>
<line x1="108.85" y1="215.29" x2="102.55" y2="215.29"/>
<line x1="108.85" y1="298.88" x2="102.55" y2="298.88"/>
<line x1="108.85" y1="382.48" x2="102.55" y2="382.48"/>
<line x1="108.85" y1="466.07" x2="102.55" y2="466.07"/>
</g>
<rect x="108.85" y="13.5" width="682.05" height="508.5" fill="none" stroke="#000" stroke-width="1.6"/>
<g font-family="Liberation Sans, sans-serif" font-size="23.8" fill="#000" stroke="#000" stroke-width="0.35" stroke-linejoin="round">
<text x="90.85" y="552.6" textLength="36.0" lengthAdjust="spacingAndGlyphs">0.0</text>
<text x="176.11" y="552.6" textLength="36.0" lengthAdjust="spacingAndGlyphs">2.5</text>
<text x="261.36" y="552.6" textLength="36.0" lengthAdjust="spacingAndGlyphs">5.0</text>
<text x="346.62" y="552.6" textLength="36.0" lengthAdjust="spacingAndGlyphs">7.5</text>
<text x="424.27" y="552.6" textLength="50.2" lengthAdjust="spacingAndGlyphs">10.0</text>
<text x="509.53" y="552.6" textLength="50.2" lengthAdjust="spacingAndGlyphs">12.5</text>
<text x="594.79" y="552.6" textLength="50.2" lengthAdjust="spacingAndGlyphs">15.0</text>
<text x="680.04" y="552.6" textLength="50.2" lengthAdjust="spacingAndGlyphs">17.5</text>
<text x="765.30" y="552.6" textLength="50.2" lengthAdjust="spacingAndGlyphs">20.0</text>
<text x="45.9" y="57.00" textLength="48.8" lengthAdjust="spacingAndGlyphs">1.00</text>
<text x="44.7" y="140.59" textLength="50.0" lengthAdjust="spacingAndGlyphs">0.98</text>
<text x="44.7" y="224.19" textLength="50.0" lengthAdjust="spacingAndGlyphs">0.96</text>
<text x="44.7" y="307.78" textLength="50.0" lengthAdjust="spacingAndGlyphs">0.94</text>
<text x="44.7" y="391.38" textLength="50.0" lengthAdjust="spacingAndGlyphs">0.92</text>
<text x="44.7" y="474.97" textLength="50.0" lengthAdjust="spacingAndGlyphs">0.90</text>
<text x="391.8" y="582" font-size="22.8" textLength="115.8" lengthAdjust="spacingAndGlyphs">Time (ms)</text>
</g>
<g font-family="Liberation Serif, serif" fill="#000" text-anchor="middle" transform="translate(31.0,368.4) rotate(-90)">
<text x="19.1" y="0" font-size="22.2" textLength="38.2" lengthAdjust="spacingAndGlyphs">max</text>
<text x="43.6" y="-0.3" font-size="25.5">[</text>
<text x="53.6" y="0" font-size="23.5" font-style="italic">ρ</text>
<text x="64.1" y="-0.3" font-size="25.5">(</text>
<text x="73.2" y="0" font-size="24" font-style="italic">t</text>
<text x="81.6" y="-0.3" font-size="25.5">)</text>
<text x="89.0" y="-0.3" font-size="25.5">]</text>
<text x="98.6" y="4.2" font-size="31">/</text>
<text x="124.8" y="0" font-size="22.2" textLength="38.2" lengthAdjust="spacingAndGlyphs">max</text>
<text x="148.8" y="-0.3" font-size="25.5">[</text>
<text x="158.9" y="0" font-size="23.5" font-style="italic">ρ</text>
<text x="169.3" y="-0.3" font-size="25.5">(</text>
<text x="179.4" y="0" font-size="22.2">0</text>
<text x="189.4" y="-0.3" font-size="25.5">)</text>
<text x="196.0" y="-0.3" font-size="25.5">]</text>
</g>
<rect x="122.5" y="378.8" width="269.0" height="129.2" rx="3.9" ry="3.9" fill="#ffffff" fill-opacity="0.8" stroke="#cccccc" stroke-width="1.85"/>
<line x1="131.8" y1="401.05" x2="190.2" y2="401.05" stroke="#F57D3D" stroke-width="2.9"/>
<g font-family="Liberation Serif, serif" font-size="27.6" fill="#000" stroke="#000" stroke-width="0.4" stroke-linejoin="round">
<text x="211.3" y="408.95" font-size="28.8" textLength="20.8" lengthAdjust="spacingAndGlyphs" stroke-width="0.55">Δ</text>
<text x="233.6" y="408.95" font-size="26" font-style="italic" textLength="14.6" lengthAdjust="spacingAndGlyphs">x</text>
<text x="254.4" y="412.34999999999997" font-size="28.6" textLength="20.6" lengthAdjust="spacingAndGlyphs">=</text>
<text x="280.0" y="408.95" textLength="61.6" lengthAdjust="spacingAndGlyphs">0.606</text>
<text x="343.0" y="408.95" textLength="37.2" lengthAdjust="spacingAndGlyphs">km</text>
</g>
<line x1="131.8" y1="441.5" x2="190.2" y2="441.5" stroke="#85C0F8" stroke-width="2.9"/>
<g font-family="Liberation Serif, serif" font-size="27.6" fill="#000" stroke="#000" stroke-width="0.4" stroke-linejoin="round">
<text x="211.3" y="449.4" font-size="28.8" textLength="20.8" lengthAdjust="spacingAndGlyphs" stroke-width="0.55">Δ</text>
<text x="233.6" y="449.4" font-size="26" font-style="italic" textLength="14.6" lengthAdjust="spacingAndGlyphs">x</text>
<text x="254.4" y="452.79999999999995" font-size="28.6" textLength="20.6" lengthAdjust="spacingAndGlyphs">=</text>
<text x="280.0" y="449.4" textLength="61.6" lengthAdjust="spacingAndGlyphs">0.303</text>
<text x="343.0" y="449.4" textLength="37.2" lengthAdjust="spacingAndGlyphs">km</text>
</g>
<line x1="131.8" y1="481.75" x2="190.2" y2="481.75" stroke="#0E2682" stroke-width="2.9"/>
<g font-family="Liberation Serif, serif" font-size="27.6" fill="#000" stroke="#000" stroke-width="0.4" stroke-linejoin="round">
<text x="211.3" y="489.65" font-size="28.8" textLength="20.8" lengthAdjust="spacingAndGlyphs" stroke-width="0.55">Δ</text>
<text x="233.6" y="489.65" font-size="26" font-style="italic" textLength="14.6" lengthAdjust="spacingAndGlyphs">x</text>
<text x="254.4" y="493.04999999999995" font-size="28.6" textLength="20.6" lengthAdjust="spacingAndGlyphs">=</text>
<text x="280.0" y="489.65" textLength="61.6" lengthAdjust="spacingAndGlyphs">0.152</text>
<text x="343.0" y="489.65" textLength="37.2" lengthAdjust="spacingAndGlyphs">km</text>
</g>
</svg>
</body></html>
